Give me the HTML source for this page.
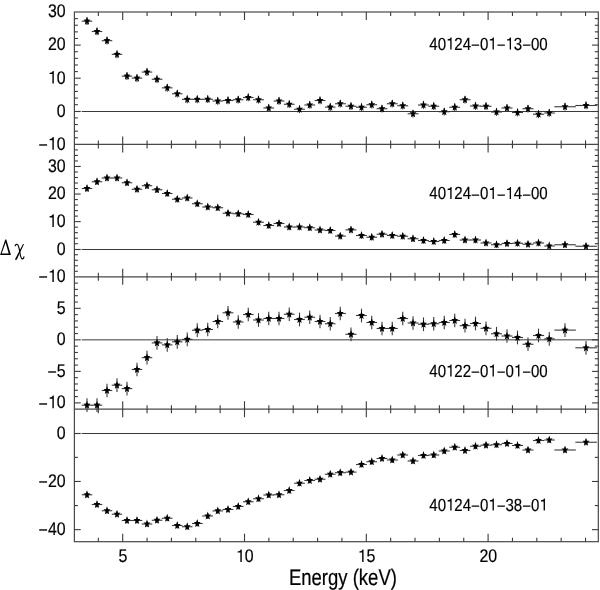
<!DOCTYPE html><html><head><meta charset="utf-8"><style>html,body{margin:0;padding:0;background:#fff}svg{display:block;filter:grayscale(1);text-rendering:geometricPrecision}</style></head><body>
<svg width="600" height="590" viewBox="0 0 600 590">
<g stroke="#484848" stroke-width="1.2" fill="none">
<rect x="74.40" y="12.00" width="523.90" height="529.70"/>
<line x1="74.40" y1="144.40" x2="598.30" y2="144.40"/>
<line x1="74.40" y1="276.80" x2="598.30" y2="276.80"/>
<line x1="74.40" y1="409.20" x2="598.30" y2="409.20"/>
</g>
<g stroke="#3a3a3a" stroke-width="1.0">
<line x1="81.70" y1="111.50" x2="598.30" y2="111.50"/>
<line x1="81.70" y1="249.50" x2="598.30" y2="249.50"/>
<line x1="81.70" y1="339.85" x2="598.30" y2="339.85"/>
<line x1="81.70" y1="433.50" x2="598.30" y2="433.50"/>
</g>
<g stroke="#3a3a3a" stroke-width="1.1">
<line x1="98.34" y1="12.00" x2="98.34" y2="16.00"/>
<line x1="98.34" y1="144.40" x2="98.34" y2="140.40"/>
<line x1="122.70" y1="12.00" x2="122.70" y2="20.00"/>
<line x1="122.70" y1="144.40" x2="122.70" y2="136.40"/>
<line x1="147.06" y1="12.00" x2="147.06" y2="16.00"/>
<line x1="147.06" y1="144.40" x2="147.06" y2="140.40"/>
<line x1="171.42" y1="12.00" x2="171.42" y2="16.00"/>
<line x1="171.42" y1="144.40" x2="171.42" y2="140.40"/>
<line x1="195.78" y1="12.00" x2="195.78" y2="16.00"/>
<line x1="195.78" y1="144.40" x2="195.78" y2="140.40"/>
<line x1="220.14" y1="12.00" x2="220.14" y2="16.00"/>
<line x1="220.14" y1="144.40" x2="220.14" y2="140.40"/>
<line x1="244.50" y1="12.00" x2="244.50" y2="20.00"/>
<line x1="244.50" y1="144.40" x2="244.50" y2="136.40"/>
<line x1="268.86" y1="12.00" x2="268.86" y2="16.00"/>
<line x1="268.86" y1="144.40" x2="268.86" y2="140.40"/>
<line x1="293.22" y1="12.00" x2="293.22" y2="16.00"/>
<line x1="293.22" y1="144.40" x2="293.22" y2="140.40"/>
<line x1="317.58" y1="12.00" x2="317.58" y2="16.00"/>
<line x1="317.58" y1="144.40" x2="317.58" y2="140.40"/>
<line x1="341.94" y1="12.00" x2="341.94" y2="16.00"/>
<line x1="341.94" y1="144.40" x2="341.94" y2="140.40"/>
<line x1="366.30" y1="12.00" x2="366.30" y2="20.00"/>
<line x1="366.30" y1="144.40" x2="366.30" y2="136.40"/>
<line x1="390.66" y1="12.00" x2="390.66" y2="16.00"/>
<line x1="390.66" y1="144.40" x2="390.66" y2="140.40"/>
<line x1="415.02" y1="12.00" x2="415.02" y2="16.00"/>
<line x1="415.02" y1="144.40" x2="415.02" y2="140.40"/>
<line x1="439.38" y1="12.00" x2="439.38" y2="16.00"/>
<line x1="439.38" y1="144.40" x2="439.38" y2="140.40"/>
<line x1="463.74" y1="12.00" x2="463.74" y2="16.00"/>
<line x1="463.74" y1="144.40" x2="463.74" y2="140.40"/>
<line x1="488.10" y1="12.00" x2="488.10" y2="20.00"/>
<line x1="488.10" y1="144.40" x2="488.10" y2="136.40"/>
<line x1="512.46" y1="12.00" x2="512.46" y2="16.00"/>
<line x1="512.46" y1="144.40" x2="512.46" y2="140.40"/>
<line x1="536.82" y1="12.00" x2="536.82" y2="16.00"/>
<line x1="536.82" y1="144.40" x2="536.82" y2="140.40"/>
<line x1="561.18" y1="12.00" x2="561.18" y2="16.00"/>
<line x1="561.18" y1="144.40" x2="561.18" y2="140.40"/>
<line x1="585.54" y1="12.00" x2="585.54" y2="16.00"/>
<line x1="585.54" y1="144.40" x2="585.54" y2="140.40"/>
<line x1="74.40" y1="137.78" x2="77.90" y2="137.78"/>
<line x1="598.30" y1="137.78" x2="594.80" y2="137.78"/>
<line x1="74.40" y1="131.16" x2="77.90" y2="131.16"/>
<line x1="598.30" y1="131.16" x2="594.80" y2="131.16"/>
<line x1="74.40" y1="124.54" x2="77.90" y2="124.54"/>
<line x1="598.30" y1="124.54" x2="594.80" y2="124.54"/>
<line x1="74.40" y1="117.92" x2="77.90" y2="117.92"/>
<line x1="598.30" y1="117.92" x2="594.80" y2="117.92"/>
<line x1="74.40" y1="111.50" x2="80.70" y2="111.50"/>
<line x1="598.30" y1="111.50" x2="592.00" y2="111.50"/>
<line x1="74.40" y1="104.68" x2="77.90" y2="104.68"/>
<line x1="598.30" y1="104.68" x2="594.80" y2="104.68"/>
<line x1="74.40" y1="98.06" x2="77.90" y2="98.06"/>
<line x1="598.30" y1="98.06" x2="594.80" y2="98.06"/>
<line x1="74.40" y1="91.44" x2="77.90" y2="91.44"/>
<line x1="598.30" y1="91.44" x2="594.80" y2="91.44"/>
<line x1="74.40" y1="84.82" x2="77.90" y2="84.82"/>
<line x1="598.30" y1="84.82" x2="594.80" y2="84.82"/>
<line x1="74.40" y1="78.20" x2="80.70" y2="78.20"/>
<line x1="598.30" y1="78.20" x2="592.00" y2="78.20"/>
<line x1="74.40" y1="71.58" x2="77.90" y2="71.58"/>
<line x1="598.30" y1="71.58" x2="594.80" y2="71.58"/>
<line x1="74.40" y1="64.96" x2="77.90" y2="64.96"/>
<line x1="598.30" y1="64.96" x2="594.80" y2="64.96"/>
<line x1="74.40" y1="58.34" x2="77.90" y2="58.34"/>
<line x1="598.30" y1="58.34" x2="594.80" y2="58.34"/>
<line x1="74.40" y1="51.72" x2="77.90" y2="51.72"/>
<line x1="598.30" y1="51.72" x2="594.80" y2="51.72"/>
<line x1="74.40" y1="45.10" x2="80.70" y2="45.10"/>
<line x1="598.30" y1="45.10" x2="592.00" y2="45.10"/>
<line x1="74.40" y1="38.48" x2="77.90" y2="38.48"/>
<line x1="598.30" y1="38.48" x2="594.80" y2="38.48"/>
<line x1="74.40" y1="31.86" x2="77.90" y2="31.86"/>
<line x1="598.30" y1="31.86" x2="594.80" y2="31.86"/>
<line x1="74.40" y1="25.24" x2="77.90" y2="25.24"/>
<line x1="598.30" y1="25.24" x2="594.80" y2="25.24"/>
<line x1="74.40" y1="18.62" x2="77.90" y2="18.62"/>
<line x1="598.30" y1="18.62" x2="594.80" y2="18.62"/>
<line x1="98.34" y1="144.40" x2="98.34" y2="148.40"/>
<line x1="98.34" y1="276.80" x2="98.34" y2="272.80"/>
<line x1="122.70" y1="144.40" x2="122.70" y2="152.40"/>
<line x1="122.70" y1="276.80" x2="122.70" y2="268.80"/>
<line x1="147.06" y1="144.40" x2="147.06" y2="148.40"/>
<line x1="147.06" y1="276.80" x2="147.06" y2="272.80"/>
<line x1="171.42" y1="144.40" x2="171.42" y2="148.40"/>
<line x1="171.42" y1="276.80" x2="171.42" y2="272.80"/>
<line x1="195.78" y1="144.40" x2="195.78" y2="148.40"/>
<line x1="195.78" y1="276.80" x2="195.78" y2="272.80"/>
<line x1="220.14" y1="144.40" x2="220.14" y2="148.40"/>
<line x1="220.14" y1="276.80" x2="220.14" y2="272.80"/>
<line x1="244.50" y1="144.40" x2="244.50" y2="152.40"/>
<line x1="244.50" y1="276.80" x2="244.50" y2="268.80"/>
<line x1="268.86" y1="144.40" x2="268.86" y2="148.40"/>
<line x1="268.86" y1="276.80" x2="268.86" y2="272.80"/>
<line x1="293.22" y1="144.40" x2="293.22" y2="148.40"/>
<line x1="293.22" y1="276.80" x2="293.22" y2="272.80"/>
<line x1="317.58" y1="144.40" x2="317.58" y2="148.40"/>
<line x1="317.58" y1="276.80" x2="317.58" y2="272.80"/>
<line x1="341.94" y1="144.40" x2="341.94" y2="148.40"/>
<line x1="341.94" y1="276.80" x2="341.94" y2="272.80"/>
<line x1="366.30" y1="144.40" x2="366.30" y2="152.40"/>
<line x1="366.30" y1="276.80" x2="366.30" y2="268.80"/>
<line x1="390.66" y1="144.40" x2="390.66" y2="148.40"/>
<line x1="390.66" y1="276.80" x2="390.66" y2="272.80"/>
<line x1="415.02" y1="144.40" x2="415.02" y2="148.40"/>
<line x1="415.02" y1="276.80" x2="415.02" y2="272.80"/>
<line x1="439.38" y1="144.40" x2="439.38" y2="148.40"/>
<line x1="439.38" y1="276.80" x2="439.38" y2="272.80"/>
<line x1="463.74" y1="144.40" x2="463.74" y2="148.40"/>
<line x1="463.74" y1="276.80" x2="463.74" y2="272.80"/>
<line x1="488.10" y1="144.40" x2="488.10" y2="152.40"/>
<line x1="488.10" y1="276.80" x2="488.10" y2="268.80"/>
<line x1="512.46" y1="144.40" x2="512.46" y2="148.40"/>
<line x1="512.46" y1="276.80" x2="512.46" y2="272.80"/>
<line x1="536.82" y1="144.40" x2="536.82" y2="148.40"/>
<line x1="536.82" y1="276.80" x2="536.82" y2="272.80"/>
<line x1="561.18" y1="144.40" x2="561.18" y2="148.40"/>
<line x1="561.18" y1="276.80" x2="561.18" y2="272.80"/>
<line x1="585.54" y1="144.40" x2="585.54" y2="148.40"/>
<line x1="585.54" y1="276.80" x2="585.54" y2="272.80"/>
<line x1="74.40" y1="271.28" x2="77.90" y2="271.28"/>
<line x1="598.30" y1="271.28" x2="594.80" y2="271.28"/>
<line x1="74.40" y1="265.77" x2="77.90" y2="265.77"/>
<line x1="598.30" y1="265.77" x2="594.80" y2="265.77"/>
<line x1="74.40" y1="260.25" x2="77.90" y2="260.25"/>
<line x1="598.30" y1="260.25" x2="594.80" y2="260.25"/>
<line x1="74.40" y1="254.73" x2="77.90" y2="254.73"/>
<line x1="598.30" y1="254.73" x2="594.80" y2="254.73"/>
<line x1="74.40" y1="249.50" x2="80.70" y2="249.50"/>
<line x1="598.30" y1="249.50" x2="592.00" y2="249.50"/>
<line x1="74.40" y1="243.70" x2="77.90" y2="243.70"/>
<line x1="598.30" y1="243.70" x2="594.80" y2="243.70"/>
<line x1="74.40" y1="238.18" x2="77.90" y2="238.18"/>
<line x1="598.30" y1="238.18" x2="594.80" y2="238.18"/>
<line x1="74.40" y1="232.67" x2="77.90" y2="232.67"/>
<line x1="598.30" y1="232.67" x2="594.80" y2="232.67"/>
<line x1="74.40" y1="227.15" x2="77.90" y2="227.15"/>
<line x1="598.30" y1="227.15" x2="594.80" y2="227.15"/>
<line x1="74.40" y1="221.63" x2="80.70" y2="221.63"/>
<line x1="598.30" y1="221.63" x2="592.00" y2="221.63"/>
<line x1="74.40" y1="216.12" x2="77.90" y2="216.12"/>
<line x1="598.30" y1="216.12" x2="594.80" y2="216.12"/>
<line x1="74.40" y1="210.60" x2="77.90" y2="210.60"/>
<line x1="598.30" y1="210.60" x2="594.80" y2="210.60"/>
<line x1="74.40" y1="205.08" x2="77.90" y2="205.08"/>
<line x1="598.30" y1="205.08" x2="594.80" y2="205.08"/>
<line x1="74.40" y1="199.57" x2="77.90" y2="199.57"/>
<line x1="598.30" y1="199.57" x2="594.80" y2="199.57"/>
<line x1="74.40" y1="194.05" x2="80.70" y2="194.05"/>
<line x1="598.30" y1="194.05" x2="592.00" y2="194.05"/>
<line x1="74.40" y1="188.53" x2="77.90" y2="188.53"/>
<line x1="598.30" y1="188.53" x2="594.80" y2="188.53"/>
<line x1="74.40" y1="183.02" x2="77.90" y2="183.02"/>
<line x1="598.30" y1="183.02" x2="594.80" y2="183.02"/>
<line x1="74.40" y1="177.50" x2="77.90" y2="177.50"/>
<line x1="598.30" y1="177.50" x2="594.80" y2="177.50"/>
<line x1="74.40" y1="171.98" x2="77.90" y2="171.98"/>
<line x1="598.30" y1="171.98" x2="594.80" y2="171.98"/>
<line x1="74.40" y1="166.47" x2="80.70" y2="166.47"/>
<line x1="598.30" y1="166.47" x2="592.00" y2="166.47"/>
<line x1="74.40" y1="160.95" x2="77.90" y2="160.95"/>
<line x1="598.30" y1="160.95" x2="594.80" y2="160.95"/>
<line x1="74.40" y1="155.43" x2="77.90" y2="155.43"/>
<line x1="598.30" y1="155.43" x2="594.80" y2="155.43"/>
<line x1="74.40" y1="149.92" x2="77.90" y2="149.92"/>
<line x1="598.30" y1="149.92" x2="594.80" y2="149.92"/>
<line x1="98.34" y1="276.80" x2="98.34" y2="280.80"/>
<line x1="98.34" y1="409.20" x2="98.34" y2="405.20"/>
<line x1="122.70" y1="276.80" x2="122.70" y2="284.80"/>
<line x1="122.70" y1="409.20" x2="122.70" y2="401.20"/>
<line x1="147.06" y1="276.80" x2="147.06" y2="280.80"/>
<line x1="147.06" y1="409.20" x2="147.06" y2="405.20"/>
<line x1="171.42" y1="276.80" x2="171.42" y2="280.80"/>
<line x1="171.42" y1="409.20" x2="171.42" y2="405.20"/>
<line x1="195.78" y1="276.80" x2="195.78" y2="280.80"/>
<line x1="195.78" y1="409.20" x2="195.78" y2="405.20"/>
<line x1="220.14" y1="276.80" x2="220.14" y2="280.80"/>
<line x1="220.14" y1="409.20" x2="220.14" y2="405.20"/>
<line x1="244.50" y1="276.80" x2="244.50" y2="284.80"/>
<line x1="244.50" y1="409.20" x2="244.50" y2="401.20"/>
<line x1="268.86" y1="276.80" x2="268.86" y2="280.80"/>
<line x1="268.86" y1="409.20" x2="268.86" y2="405.20"/>
<line x1="293.22" y1="276.80" x2="293.22" y2="280.80"/>
<line x1="293.22" y1="409.20" x2="293.22" y2="405.20"/>
<line x1="317.58" y1="276.80" x2="317.58" y2="280.80"/>
<line x1="317.58" y1="409.20" x2="317.58" y2="405.20"/>
<line x1="341.94" y1="276.80" x2="341.94" y2="280.80"/>
<line x1="341.94" y1="409.20" x2="341.94" y2="405.20"/>
<line x1="366.30" y1="276.80" x2="366.30" y2="284.80"/>
<line x1="366.30" y1="409.20" x2="366.30" y2="401.20"/>
<line x1="390.66" y1="276.80" x2="390.66" y2="280.80"/>
<line x1="390.66" y1="409.20" x2="390.66" y2="405.20"/>
<line x1="415.02" y1="276.80" x2="415.02" y2="280.80"/>
<line x1="415.02" y1="409.20" x2="415.02" y2="405.20"/>
<line x1="439.38" y1="276.80" x2="439.38" y2="280.80"/>
<line x1="439.38" y1="409.20" x2="439.38" y2="405.20"/>
<line x1="463.74" y1="276.80" x2="463.74" y2="280.80"/>
<line x1="463.74" y1="409.20" x2="463.74" y2="405.20"/>
<line x1="488.10" y1="276.80" x2="488.10" y2="284.80"/>
<line x1="488.10" y1="409.20" x2="488.10" y2="401.20"/>
<line x1="512.46" y1="276.80" x2="512.46" y2="280.80"/>
<line x1="512.46" y1="409.20" x2="512.46" y2="405.20"/>
<line x1="536.82" y1="276.80" x2="536.82" y2="280.80"/>
<line x1="536.82" y1="409.20" x2="536.82" y2="405.20"/>
<line x1="561.18" y1="276.80" x2="561.18" y2="280.80"/>
<line x1="561.18" y1="409.20" x2="561.18" y2="405.20"/>
<line x1="585.54" y1="276.80" x2="585.54" y2="280.80"/>
<line x1="585.54" y1="409.20" x2="585.54" y2="405.20"/>
<line x1="74.40" y1="402.90" x2="80.70" y2="402.90"/>
<line x1="598.30" y1="402.90" x2="592.00" y2="402.90"/>
<line x1="74.40" y1="396.59" x2="77.90" y2="396.59"/>
<line x1="598.30" y1="396.59" x2="594.80" y2="396.59"/>
<line x1="74.40" y1="390.29" x2="77.90" y2="390.29"/>
<line x1="598.30" y1="390.29" x2="594.80" y2="390.29"/>
<line x1="74.40" y1="383.98" x2="77.90" y2="383.98"/>
<line x1="598.30" y1="383.98" x2="594.80" y2="383.98"/>
<line x1="74.40" y1="377.68" x2="77.90" y2="377.68"/>
<line x1="598.30" y1="377.68" x2="594.80" y2="377.68"/>
<line x1="74.40" y1="371.37" x2="80.70" y2="371.37"/>
<line x1="598.30" y1="371.37" x2="592.00" y2="371.37"/>
<line x1="74.40" y1="365.07" x2="77.90" y2="365.07"/>
<line x1="598.30" y1="365.07" x2="594.80" y2="365.07"/>
<line x1="74.40" y1="358.76" x2="77.90" y2="358.76"/>
<line x1="598.30" y1="358.76" x2="594.80" y2="358.76"/>
<line x1="74.40" y1="352.46" x2="77.90" y2="352.46"/>
<line x1="598.30" y1="352.46" x2="594.80" y2="352.46"/>
<line x1="74.40" y1="346.15" x2="77.90" y2="346.15"/>
<line x1="598.30" y1="346.15" x2="594.80" y2="346.15"/>
<line x1="74.40" y1="339.85" x2="80.70" y2="339.85"/>
<line x1="598.30" y1="339.85" x2="592.00" y2="339.85"/>
<line x1="74.40" y1="333.54" x2="77.90" y2="333.54"/>
<line x1="598.30" y1="333.54" x2="594.80" y2="333.54"/>
<line x1="74.40" y1="327.24" x2="77.90" y2="327.24"/>
<line x1="598.30" y1="327.24" x2="594.80" y2="327.24"/>
<line x1="74.40" y1="320.93" x2="77.90" y2="320.93"/>
<line x1="598.30" y1="320.93" x2="594.80" y2="320.93"/>
<line x1="74.40" y1="314.63" x2="77.90" y2="314.63"/>
<line x1="598.30" y1="314.63" x2="594.80" y2="314.63"/>
<line x1="74.40" y1="308.32" x2="80.70" y2="308.32"/>
<line x1="598.30" y1="308.32" x2="592.00" y2="308.32"/>
<line x1="74.40" y1="302.02" x2="77.90" y2="302.02"/>
<line x1="598.30" y1="302.02" x2="594.80" y2="302.02"/>
<line x1="74.40" y1="295.71" x2="77.90" y2="295.71"/>
<line x1="598.30" y1="295.71" x2="594.80" y2="295.71"/>
<line x1="74.40" y1="289.41" x2="77.90" y2="289.41"/>
<line x1="598.30" y1="289.41" x2="594.80" y2="289.41"/>
<line x1="74.40" y1="283.10" x2="77.90" y2="283.10"/>
<line x1="598.30" y1="283.10" x2="594.80" y2="283.10"/>
<line x1="98.34" y1="409.20" x2="98.34" y2="413.20"/>
<line x1="98.34" y1="541.70" x2="98.34" y2="537.70"/>
<line x1="122.70" y1="409.20" x2="122.70" y2="417.20"/>
<line x1="122.70" y1="541.70" x2="122.70" y2="533.70"/>
<line x1="147.06" y1="409.20" x2="147.06" y2="413.20"/>
<line x1="147.06" y1="541.70" x2="147.06" y2="537.70"/>
<line x1="171.42" y1="409.20" x2="171.42" y2="413.20"/>
<line x1="171.42" y1="541.70" x2="171.42" y2="537.70"/>
<line x1="195.78" y1="409.20" x2="195.78" y2="413.20"/>
<line x1="195.78" y1="541.70" x2="195.78" y2="537.70"/>
<line x1="220.14" y1="409.20" x2="220.14" y2="413.20"/>
<line x1="220.14" y1="541.70" x2="220.14" y2="537.70"/>
<line x1="244.50" y1="409.20" x2="244.50" y2="417.20"/>
<line x1="244.50" y1="541.70" x2="244.50" y2="533.70"/>
<line x1="268.86" y1="409.20" x2="268.86" y2="413.20"/>
<line x1="268.86" y1="541.70" x2="268.86" y2="537.70"/>
<line x1="293.22" y1="409.20" x2="293.22" y2="413.20"/>
<line x1="293.22" y1="541.70" x2="293.22" y2="537.70"/>
<line x1="317.58" y1="409.20" x2="317.58" y2="413.20"/>
<line x1="317.58" y1="541.70" x2="317.58" y2="537.70"/>
<line x1="341.94" y1="409.20" x2="341.94" y2="413.20"/>
<line x1="341.94" y1="541.70" x2="341.94" y2="537.70"/>
<line x1="366.30" y1="409.20" x2="366.30" y2="417.20"/>
<line x1="366.30" y1="541.70" x2="366.30" y2="533.70"/>
<line x1="390.66" y1="409.20" x2="390.66" y2="413.20"/>
<line x1="390.66" y1="541.70" x2="390.66" y2="537.70"/>
<line x1="415.02" y1="409.20" x2="415.02" y2="413.20"/>
<line x1="415.02" y1="541.70" x2="415.02" y2="537.70"/>
<line x1="439.38" y1="409.20" x2="439.38" y2="413.20"/>
<line x1="439.38" y1="541.70" x2="439.38" y2="537.70"/>
<line x1="463.74" y1="409.20" x2="463.74" y2="413.20"/>
<line x1="463.74" y1="541.70" x2="463.74" y2="537.70"/>
<line x1="488.10" y1="409.20" x2="488.10" y2="417.20"/>
<line x1="488.10" y1="541.70" x2="488.10" y2="533.70"/>
<line x1="512.46" y1="409.20" x2="512.46" y2="413.20"/>
<line x1="512.46" y1="541.70" x2="512.46" y2="537.70"/>
<line x1="536.82" y1="409.20" x2="536.82" y2="413.20"/>
<line x1="536.82" y1="541.70" x2="536.82" y2="537.70"/>
<line x1="561.18" y1="409.20" x2="561.18" y2="413.20"/>
<line x1="561.18" y1="541.70" x2="561.18" y2="537.70"/>
<line x1="585.54" y1="409.20" x2="585.54" y2="413.20"/>
<line x1="585.54" y1="541.70" x2="585.54" y2="537.70"/>
<line x1="74.40" y1="529.65" x2="80.70" y2="529.65"/>
<line x1="598.30" y1="529.65" x2="592.00" y2="529.65"/>
<line x1="74.40" y1="505.56" x2="77.90" y2="505.56"/>
<line x1="598.30" y1="505.56" x2="594.80" y2="505.56"/>
<line x1="74.40" y1="481.47" x2="80.70" y2="481.47"/>
<line x1="598.30" y1="481.47" x2="592.00" y2="481.47"/>
<line x1="74.40" y1="457.38" x2="77.90" y2="457.38"/>
<line x1="598.30" y1="457.38" x2="594.80" y2="457.38"/>
<line x1="74.40" y1="433.50" x2="80.70" y2="433.50"/>
<line x1="598.30" y1="433.50" x2="592.00" y2="433.50"/>
</g>
<g stroke="#3a3a3a" stroke-width="1.1" stroke-linecap="square">
<line x1="81.75" y1="21.20" x2="92.25" y2="21.20" stroke-linecap="butt"/>
<line x1="87.00" y1="17.89" x2="87.00" y2="24.51"/>
<line x1="91.75" y1="31.50" x2="102.25" y2="31.50" stroke-linecap="butt"/>
<line x1="97.00" y1="28.19" x2="97.00" y2="34.81"/>
<line x1="101.75" y1="40.70" x2="112.25" y2="40.70" stroke-linecap="butt"/>
<line x1="107.00" y1="37.39" x2="107.00" y2="44.01"/>
<line x1="111.75" y1="54.35" x2="122.25" y2="54.35" stroke-linecap="butt"/>
<line x1="117.00" y1="51.04" x2="117.00" y2="57.66"/>
<line x1="121.75" y1="76.15" x2="132.25" y2="76.15" stroke-linecap="butt"/>
<line x1="127.00" y1="72.84" x2="127.00" y2="79.46"/>
<line x1="131.75" y1="78.10" x2="142.25" y2="78.10" stroke-linecap="butt"/>
<line x1="137.00" y1="74.79" x2="137.00" y2="81.41"/>
<line x1="141.75" y1="72.05" x2="152.25" y2="72.05" stroke-linecap="butt"/>
<line x1="147.00" y1="68.74" x2="147.00" y2="75.36"/>
<line x1="151.75" y1="79.25" x2="162.38" y2="79.25" stroke-linecap="butt"/>
<line x1="157.00" y1="75.94" x2="157.00" y2="82.56"/>
<line x1="161.88" y1="87.85" x2="172.50" y2="87.85" stroke-linecap="butt"/>
<line x1="167.25" y1="84.54" x2="167.25" y2="91.16"/>
<line x1="172.00" y1="93.75" x2="182.50" y2="93.75" stroke-linecap="butt"/>
<line x1="177.25" y1="90.44" x2="177.25" y2="97.06"/>
<line x1="182.00" y1="99.35" x2="192.50" y2="99.35" stroke-linecap="butt"/>
<line x1="187.25" y1="96.04" x2="187.25" y2="102.66"/>
<line x1="192.00" y1="99.35" x2="202.75" y2="99.35" stroke-linecap="butt"/>
<line x1="197.25" y1="96.04" x2="197.25" y2="102.66"/>
<line x1="202.25" y1="99.25" x2="213.00" y2="99.25" stroke-linecap="butt"/>
<line x1="207.75" y1="95.94" x2="207.75" y2="102.56"/>
<line x1="212.50" y1="101.00" x2="223.12" y2="101.00" stroke-linecap="butt"/>
<line x1="217.75" y1="97.69" x2="217.75" y2="104.31"/>
<line x1="222.62" y1="100.50" x2="233.38" y2="100.50" stroke-linecap="butt"/>
<line x1="228.00" y1="97.19" x2="228.00" y2="103.81"/>
<line x1="232.88" y1="99.75" x2="243.50" y2="99.75" stroke-linecap="butt"/>
<line x1="238.25" y1="96.44" x2="238.25" y2="103.06"/>
<line x1="243.00" y1="97.50" x2="253.62" y2="97.50" stroke-linecap="butt"/>
<line x1="248.25" y1="94.19" x2="248.25" y2="100.81"/>
<line x1="253.12" y1="99.75" x2="263.88" y2="99.75" stroke-linecap="butt"/>
<line x1="258.50" y1="96.44" x2="258.50" y2="103.06"/>
<line x1="263.38" y1="108.00" x2="274.12" y2="108.00" stroke-linecap="butt"/>
<line x1="268.75" y1="104.69" x2="268.75" y2="111.31"/>
<line x1="273.62" y1="101.00" x2="284.38" y2="101.00" stroke-linecap="butt"/>
<line x1="279.00" y1="97.69" x2="279.00" y2="104.31"/>
<line x1="283.88" y1="104.25" x2="294.62" y2="104.25" stroke-linecap="butt"/>
<line x1="289.25" y1="100.94" x2="289.25" y2="107.56"/>
<line x1="294.12" y1="109.25" x2="304.88" y2="109.25" stroke-linecap="butt"/>
<line x1="299.50" y1="105.94" x2="299.50" y2="112.56"/>
<line x1="304.38" y1="105.00" x2="315.12" y2="105.00" stroke-linecap="butt"/>
<line x1="309.75" y1="101.69" x2="309.75" y2="108.31"/>
<line x1="314.62" y1="100.50" x2="325.38" y2="100.50" stroke-linecap="butt"/>
<line x1="320.00" y1="97.19" x2="320.00" y2="103.81"/>
<line x1="324.88" y1="107.10" x2="335.50" y2="107.10" stroke-linecap="butt"/>
<line x1="330.25" y1="103.79" x2="330.25" y2="110.41"/>
<line x1="335.00" y1="103.75" x2="345.88" y2="103.75" stroke-linecap="butt"/>
<line x1="340.25" y1="100.44" x2="340.25" y2="107.06"/>
<line x1="345.38" y1="106.25" x2="356.50" y2="106.25" stroke-linecap="butt"/>
<line x1="351.00" y1="102.94" x2="351.00" y2="109.56"/>
<line x1="356.00" y1="107.25" x2="366.88" y2="107.25" stroke-linecap="butt"/>
<line x1="361.50" y1="103.94" x2="361.50" y2="110.56"/>
<line x1="366.38" y1="104.75" x2="377.12" y2="104.75" stroke-linecap="butt"/>
<line x1="371.75" y1="101.44" x2="371.75" y2="108.06"/>
<line x1="376.62" y1="108.75" x2="387.38" y2="108.75" stroke-linecap="butt"/>
<line x1="382.00" y1="105.44" x2="382.00" y2="112.06"/>
<line x1="386.88" y1="103.75" x2="397.75" y2="103.75" stroke-linecap="butt"/>
<line x1="392.25" y1="100.44" x2="392.25" y2="107.06"/>
<line x1="397.25" y1="105.75" x2="408.12" y2="105.75" stroke-linecap="butt"/>
<line x1="402.75" y1="102.44" x2="402.75" y2="109.06"/>
<line x1="407.62" y1="113.75" x2="418.50" y2="113.75" stroke-linecap="butt"/>
<line x1="413.00" y1="110.44" x2="413.00" y2="117.06"/>
<line x1="418.00" y1="105.00" x2="428.88" y2="105.00" stroke-linecap="butt"/>
<line x1="423.50" y1="101.69" x2="423.50" y2="108.31"/>
<line x1="428.38" y1="106.25" x2="439.25" y2="106.25" stroke-linecap="butt"/>
<line x1="433.75" y1="102.94" x2="433.75" y2="109.56"/>
<line x1="438.75" y1="111.75" x2="449.75" y2="111.75" stroke-linecap="butt"/>
<line x1="444.25" y1="108.44" x2="444.25" y2="115.06"/>
<line x1="449.25" y1="107.25" x2="460.12" y2="107.25" stroke-linecap="butt"/>
<line x1="454.75" y1="103.94" x2="454.75" y2="110.56"/>
<line x1="459.62" y1="99.75" x2="470.50" y2="99.75" stroke-linecap="butt"/>
<line x1="465.00" y1="96.44" x2="465.00" y2="103.06"/>
<line x1="470.00" y1="106.00" x2="481.00" y2="106.00" stroke-linecap="butt"/>
<line x1="475.50" y1="102.69" x2="475.50" y2="109.31"/>
<line x1="480.50" y1="106.25" x2="491.50" y2="106.25" stroke-linecap="butt"/>
<line x1="486.00" y1="102.94" x2="486.00" y2="109.56"/>
<line x1="491.00" y1="112.00" x2="502.00" y2="112.00" stroke-linecap="butt"/>
<line x1="496.50" y1="108.69" x2="496.50" y2="115.31"/>
<line x1="501.50" y1="108.00" x2="512.50" y2="108.00" stroke-linecap="butt"/>
<line x1="507.00" y1="104.69" x2="507.00" y2="111.31"/>
<line x1="512.00" y1="112.50" x2="523.00" y2="112.50" stroke-linecap="butt"/>
<line x1="517.50" y1="109.19" x2="517.50" y2="115.81"/>
<line x1="522.50" y1="108.75" x2="533.50" y2="108.75" stroke-linecap="butt"/>
<line x1="528.00" y1="105.44" x2="528.00" y2="112.06"/>
<line x1="533.00" y1="114.25" x2="544.12" y2="114.25" stroke-linecap="butt"/>
<line x1="538.50" y1="110.94" x2="538.50" y2="117.56"/>
<line x1="544.25" y1="113.00" x2="554.85" y2="113.00" stroke-linecap="butt"/>
<line x1="549.25" y1="109.69" x2="549.25" y2="116.31"/>
<line x1="554.35" y1="106.75" x2="575.85" y2="106.75" stroke-linecap="butt"/>
<line x1="565.00" y1="103.44" x2="565.00" y2="110.06"/>
<line x1="575.35" y1="105.50" x2="596.85" y2="105.50" stroke-linecap="butt"/>
<line x1="586.00" y1="102.19" x2="586.00" y2="108.81"/>
<line x1="81.75" y1="188.50" x2="92.25" y2="188.50" stroke-linecap="butt"/>
<line x1="87.00" y1="185.74" x2="87.00" y2="191.26"/>
<line x1="91.75" y1="181.75" x2="102.25" y2="181.75" stroke-linecap="butt"/>
<line x1="97.00" y1="178.99" x2="97.00" y2="184.51"/>
<line x1="101.75" y1="178.00" x2="112.25" y2="178.00" stroke-linecap="butt"/>
<line x1="107.00" y1="175.24" x2="107.00" y2="180.76"/>
<line x1="111.75" y1="178.00" x2="122.25" y2="178.00" stroke-linecap="butt"/>
<line x1="117.00" y1="175.24" x2="117.00" y2="180.76"/>
<line x1="121.75" y1="182.75" x2="132.25" y2="182.75" stroke-linecap="butt"/>
<line x1="127.00" y1="179.99" x2="127.00" y2="185.51"/>
<line x1="131.75" y1="189.25" x2="142.25" y2="189.25" stroke-linecap="butt"/>
<line x1="137.00" y1="186.49" x2="137.00" y2="192.01"/>
<line x1="141.75" y1="185.75" x2="152.25" y2="185.75" stroke-linecap="butt"/>
<line x1="147.00" y1="182.99" x2="147.00" y2="188.51"/>
<line x1="151.75" y1="189.75" x2="162.38" y2="189.75" stroke-linecap="butt"/>
<line x1="157.00" y1="186.99" x2="157.00" y2="192.51"/>
<line x1="161.88" y1="193.50" x2="172.50" y2="193.50" stroke-linecap="butt"/>
<line x1="167.25" y1="190.74" x2="167.25" y2="196.26"/>
<line x1="172.00" y1="199.25" x2="182.50" y2="199.25" stroke-linecap="butt"/>
<line x1="177.25" y1="196.49" x2="177.25" y2="202.01"/>
<line x1="182.00" y1="198.00" x2="192.50" y2="198.00" stroke-linecap="butt"/>
<line x1="187.25" y1="195.24" x2="187.25" y2="200.76"/>
<line x1="192.00" y1="203.75" x2="202.75" y2="203.75" stroke-linecap="butt"/>
<line x1="197.25" y1="200.99" x2="197.25" y2="206.51"/>
<line x1="202.25" y1="207.00" x2="213.00" y2="207.00" stroke-linecap="butt"/>
<line x1="207.75" y1="204.24" x2="207.75" y2="209.76"/>
<line x1="212.50" y1="207.75" x2="223.12" y2="207.75" stroke-linecap="butt"/>
<line x1="217.75" y1="204.99" x2="217.75" y2="210.51"/>
<line x1="222.62" y1="213.25" x2="233.38" y2="213.25" stroke-linecap="butt"/>
<line x1="228.00" y1="210.49" x2="228.00" y2="216.01"/>
<line x1="232.88" y1="213.75" x2="243.50" y2="213.75" stroke-linecap="butt"/>
<line x1="238.25" y1="210.99" x2="238.25" y2="216.51"/>
<line x1="243.00" y1="214.50" x2="253.62" y2="214.50" stroke-linecap="butt"/>
<line x1="248.25" y1="211.74" x2="248.25" y2="217.26"/>
<line x1="253.12" y1="222.25" x2="263.88" y2="222.25" stroke-linecap="butt"/>
<line x1="258.50" y1="219.49" x2="258.50" y2="225.01"/>
<line x1="263.38" y1="225.50" x2="274.12" y2="225.50" stroke-linecap="butt"/>
<line x1="268.75" y1="222.74" x2="268.75" y2="228.26"/>
<line x1="273.62" y1="223.50" x2="284.38" y2="223.50" stroke-linecap="butt"/>
<line x1="279.00" y1="220.74" x2="279.00" y2="226.26"/>
<line x1="283.88" y1="227.00" x2="294.62" y2="227.00" stroke-linecap="butt"/>
<line x1="289.25" y1="224.24" x2="289.25" y2="229.76"/>
<line x1="294.12" y1="227.00" x2="304.88" y2="227.00" stroke-linecap="butt"/>
<line x1="299.50" y1="224.24" x2="299.50" y2="229.76"/>
<line x1="304.38" y1="227.75" x2="315.12" y2="227.75" stroke-linecap="butt"/>
<line x1="309.75" y1="224.99" x2="309.75" y2="230.51"/>
<line x1="314.62" y1="230.00" x2="325.38" y2="230.00" stroke-linecap="butt"/>
<line x1="320.00" y1="227.24" x2="320.00" y2="232.76"/>
<line x1="324.88" y1="230.50" x2="335.50" y2="230.50" stroke-linecap="butt"/>
<line x1="330.25" y1="227.74" x2="330.25" y2="233.26"/>
<line x1="335.00" y1="236.10" x2="345.88" y2="236.10" stroke-linecap="butt"/>
<line x1="340.25" y1="233.34" x2="340.25" y2="238.86"/>
<line x1="345.38" y1="229.90" x2="356.50" y2="229.90" stroke-linecap="butt"/>
<line x1="351.00" y1="227.14" x2="351.00" y2="232.66"/>
<line x1="356.00" y1="235.50" x2="366.88" y2="235.50" stroke-linecap="butt"/>
<line x1="361.50" y1="232.74" x2="361.50" y2="238.26"/>
<line x1="366.38" y1="237.25" x2="377.12" y2="237.25" stroke-linecap="butt"/>
<line x1="371.75" y1="234.49" x2="371.75" y2="240.01"/>
<line x1="376.62" y1="234.25" x2="387.38" y2="234.25" stroke-linecap="butt"/>
<line x1="382.00" y1="231.49" x2="382.00" y2="237.01"/>
<line x1="386.88" y1="235.50" x2="397.75" y2="235.50" stroke-linecap="butt"/>
<line x1="392.25" y1="232.74" x2="392.25" y2="238.26"/>
<line x1="397.25" y1="236.25" x2="408.12" y2="236.25" stroke-linecap="butt"/>
<line x1="402.75" y1="233.49" x2="402.75" y2="239.01"/>
<line x1="407.62" y1="238.75" x2="418.50" y2="238.75" stroke-linecap="butt"/>
<line x1="413.00" y1="235.99" x2="413.00" y2="241.51"/>
<line x1="418.00" y1="240.50" x2="428.88" y2="240.50" stroke-linecap="butt"/>
<line x1="423.50" y1="237.74" x2="423.50" y2="243.26"/>
<line x1="428.38" y1="241.50" x2="439.25" y2="241.50" stroke-linecap="butt"/>
<line x1="433.75" y1="238.74" x2="433.75" y2="244.26"/>
<line x1="438.75" y1="240.50" x2="449.75" y2="240.50" stroke-linecap="butt"/>
<line x1="444.25" y1="237.74" x2="444.25" y2="243.26"/>
<line x1="449.25" y1="234.50" x2="460.12" y2="234.50" stroke-linecap="butt"/>
<line x1="454.75" y1="231.74" x2="454.75" y2="237.26"/>
<line x1="459.62" y1="240.00" x2="470.50" y2="240.00" stroke-linecap="butt"/>
<line x1="465.00" y1="237.24" x2="465.00" y2="242.76"/>
<line x1="470.00" y1="240.00" x2="481.00" y2="240.00" stroke-linecap="butt"/>
<line x1="475.50" y1="237.24" x2="475.50" y2="242.76"/>
<line x1="480.50" y1="243.00" x2="491.50" y2="243.00" stroke-linecap="butt"/>
<line x1="486.00" y1="240.24" x2="486.00" y2="245.76"/>
<line x1="491.00" y1="244.75" x2="502.00" y2="244.75" stroke-linecap="butt"/>
<line x1="496.50" y1="241.99" x2="496.50" y2="247.51"/>
<line x1="501.50" y1="243.50" x2="512.50" y2="243.50" stroke-linecap="butt"/>
<line x1="507.00" y1="240.74" x2="507.00" y2="246.26"/>
<line x1="512.00" y1="243.25" x2="523.00" y2="243.25" stroke-linecap="butt"/>
<line x1="517.50" y1="240.49" x2="517.50" y2="246.01"/>
<line x1="522.50" y1="244.25" x2="533.50" y2="244.25" stroke-linecap="butt"/>
<line x1="528.00" y1="241.49" x2="528.00" y2="247.01"/>
<line x1="533.00" y1="243.00" x2="544.12" y2="243.00" stroke-linecap="butt"/>
<line x1="538.50" y1="240.24" x2="538.50" y2="245.76"/>
<line x1="544.25" y1="246.00" x2="554.85" y2="246.00" stroke-linecap="butt"/>
<line x1="549.25" y1="243.24" x2="549.25" y2="248.76"/>
<line x1="554.35" y1="244.75" x2="575.85" y2="244.75" stroke-linecap="butt"/>
<line x1="565.00" y1="241.99" x2="565.00" y2="247.51"/>
<line x1="575.35" y1="246.25" x2="596.85" y2="246.25" stroke-linecap="butt"/>
<line x1="586.00" y1="243.49" x2="586.00" y2="249.01"/>
<line x1="81.75" y1="405.20" x2="92.25" y2="405.20" stroke-linecap="butt"/>
<line x1="87.00" y1="398.90" x2="87.00" y2="411.50"/>
<line x1="91.75" y1="405.20" x2="102.25" y2="405.20" stroke-linecap="butt"/>
<line x1="97.00" y1="398.90" x2="97.00" y2="411.50"/>
<line x1="101.75" y1="390.50" x2="112.25" y2="390.50" stroke-linecap="butt"/>
<line x1="107.00" y1="384.20" x2="107.00" y2="396.80"/>
<line x1="111.75" y1="385.20" x2="122.25" y2="385.20" stroke-linecap="butt"/>
<line x1="117.00" y1="378.90" x2="117.00" y2="391.50"/>
<line x1="121.75" y1="388.60" x2="132.25" y2="388.60" stroke-linecap="butt"/>
<line x1="127.00" y1="382.30" x2="127.00" y2="394.90"/>
<line x1="131.75" y1="369.50" x2="142.25" y2="369.50" stroke-linecap="butt"/>
<line x1="137.00" y1="363.20" x2="137.00" y2="375.80"/>
<line x1="141.75" y1="357.70" x2="152.25" y2="357.70" stroke-linecap="butt"/>
<line x1="147.00" y1="351.40" x2="147.00" y2="364.00"/>
<line x1="151.75" y1="342.90" x2="162.38" y2="342.90" stroke-linecap="butt"/>
<line x1="157.00" y1="336.60" x2="157.00" y2="349.20"/>
<line x1="161.88" y1="344.90" x2="172.50" y2="344.90" stroke-linecap="butt"/>
<line x1="167.25" y1="338.60" x2="167.25" y2="351.20"/>
<line x1="172.00" y1="341.80" x2="182.50" y2="341.80" stroke-linecap="butt"/>
<line x1="177.25" y1="335.50" x2="177.25" y2="348.10"/>
<line x1="182.00" y1="339.40" x2="192.50" y2="339.40" stroke-linecap="butt"/>
<line x1="187.25" y1="333.10" x2="187.25" y2="345.70"/>
<line x1="192.00" y1="330.20" x2="202.75" y2="330.20" stroke-linecap="butt"/>
<line x1="197.25" y1="323.90" x2="197.25" y2="336.50"/>
<line x1="202.25" y1="329.50" x2="213.00" y2="329.50" stroke-linecap="butt"/>
<line x1="207.75" y1="323.20" x2="207.75" y2="335.80"/>
<line x1="212.50" y1="321.50" x2="223.12" y2="321.50" stroke-linecap="butt"/>
<line x1="217.75" y1="315.20" x2="217.75" y2="327.80"/>
<line x1="222.62" y1="312.80" x2="233.38" y2="312.80" stroke-linecap="butt"/>
<line x1="228.00" y1="306.50" x2="228.00" y2="319.10"/>
<line x1="232.88" y1="322.00" x2="243.50" y2="322.00" stroke-linecap="butt"/>
<line x1="238.25" y1="315.70" x2="238.25" y2="328.30"/>
<line x1="243.00" y1="314.50" x2="253.62" y2="314.50" stroke-linecap="butt"/>
<line x1="248.25" y1="308.20" x2="248.25" y2="320.80"/>
<line x1="253.12" y1="320.00" x2="263.88" y2="320.00" stroke-linecap="butt"/>
<line x1="258.50" y1="313.70" x2="258.50" y2="326.30"/>
<line x1="263.38" y1="318.50" x2="274.12" y2="318.50" stroke-linecap="butt"/>
<line x1="268.75" y1="312.20" x2="268.75" y2="324.80"/>
<line x1="273.62" y1="318.50" x2="284.38" y2="318.50" stroke-linecap="butt"/>
<line x1="279.00" y1="312.20" x2="279.00" y2="324.80"/>
<line x1="283.88" y1="314.25" x2="294.62" y2="314.25" stroke-linecap="butt"/>
<line x1="289.25" y1="307.95" x2="289.25" y2="320.55"/>
<line x1="294.12" y1="319.50" x2="304.88" y2="319.50" stroke-linecap="butt"/>
<line x1="299.50" y1="313.20" x2="299.50" y2="325.80"/>
<line x1="304.38" y1="317.25" x2="315.12" y2="317.25" stroke-linecap="butt"/>
<line x1="309.75" y1="310.95" x2="309.75" y2="323.55"/>
<line x1="314.62" y1="321.50" x2="325.38" y2="321.50" stroke-linecap="butt"/>
<line x1="320.00" y1="315.20" x2="320.00" y2="327.80"/>
<line x1="324.88" y1="323.75" x2="335.50" y2="323.75" stroke-linecap="butt"/>
<line x1="330.25" y1="317.45" x2="330.25" y2="330.05"/>
<line x1="335.00" y1="313.50" x2="345.88" y2="313.50" stroke-linecap="butt"/>
<line x1="340.25" y1="307.20" x2="340.25" y2="319.80"/>
<line x1="345.38" y1="334.30" x2="356.50" y2="334.30" stroke-linecap="butt"/>
<line x1="351.00" y1="328.00" x2="351.00" y2="340.60"/>
<line x1="356.00" y1="315.50" x2="366.88" y2="315.50" stroke-linecap="butt"/>
<line x1="361.50" y1="309.20" x2="361.50" y2="321.80"/>
<line x1="366.38" y1="322.50" x2="377.12" y2="322.50" stroke-linecap="butt"/>
<line x1="371.75" y1="316.20" x2="371.75" y2="328.80"/>
<line x1="376.62" y1="328.50" x2="387.38" y2="328.50" stroke-linecap="butt"/>
<line x1="382.00" y1="322.20" x2="382.00" y2="334.80"/>
<line x1="386.88" y1="328.50" x2="397.75" y2="328.50" stroke-linecap="butt"/>
<line x1="392.25" y1="322.20" x2="392.25" y2="334.80"/>
<line x1="397.25" y1="318.50" x2="408.12" y2="318.50" stroke-linecap="butt"/>
<line x1="402.75" y1="312.20" x2="402.75" y2="324.80"/>
<line x1="407.62" y1="323.00" x2="418.50" y2="323.00" stroke-linecap="butt"/>
<line x1="413.00" y1="316.70" x2="413.00" y2="329.30"/>
<line x1="418.00" y1="324.25" x2="428.88" y2="324.25" stroke-linecap="butt"/>
<line x1="423.50" y1="317.95" x2="423.50" y2="330.55"/>
<line x1="428.38" y1="323.75" x2="439.25" y2="323.75" stroke-linecap="butt"/>
<line x1="433.75" y1="317.45" x2="433.75" y2="330.05"/>
<line x1="438.75" y1="322.50" x2="449.75" y2="322.50" stroke-linecap="butt"/>
<line x1="444.25" y1="316.20" x2="444.25" y2="328.80"/>
<line x1="449.25" y1="320.50" x2="460.12" y2="320.50" stroke-linecap="butt"/>
<line x1="454.75" y1="314.20" x2="454.75" y2="326.80"/>
<line x1="459.62" y1="325.70" x2="470.50" y2="325.70" stroke-linecap="butt"/>
<line x1="465.00" y1="319.40" x2="465.00" y2="332.00"/>
<line x1="470.00" y1="323.50" x2="481.00" y2="323.50" stroke-linecap="butt"/>
<line x1="475.50" y1="317.20" x2="475.50" y2="329.80"/>
<line x1="480.50" y1="328.30" x2="491.50" y2="328.30" stroke-linecap="butt"/>
<line x1="486.00" y1="322.00" x2="486.00" y2="334.60"/>
<line x1="491.00" y1="333.75" x2="502.00" y2="333.75" stroke-linecap="butt"/>
<line x1="496.50" y1="327.45" x2="496.50" y2="340.05"/>
<line x1="501.50" y1="336.00" x2="512.50" y2="336.00" stroke-linecap="butt"/>
<line x1="507.00" y1="329.70" x2="507.00" y2="342.30"/>
<line x1="512.00" y1="337.50" x2="523.00" y2="337.50" stroke-linecap="butt"/>
<line x1="517.50" y1="331.20" x2="517.50" y2="343.80"/>
<line x1="522.50" y1="344.25" x2="533.50" y2="344.25" stroke-linecap="butt"/>
<line x1="528.00" y1="337.95" x2="528.00" y2="350.55"/>
<line x1="533.00" y1="335.50" x2="544.12" y2="335.50" stroke-linecap="butt"/>
<line x1="538.50" y1="329.20" x2="538.50" y2="341.80"/>
<line x1="544.25" y1="338.90" x2="554.85" y2="338.90" stroke-linecap="butt"/>
<line x1="549.25" y1="332.60" x2="549.25" y2="345.20"/>
<line x1="554.35" y1="330.10" x2="575.85" y2="330.10" stroke-linecap="butt"/>
<line x1="565.00" y1="323.80" x2="565.00" y2="336.40"/>
<line x1="575.35" y1="347.80" x2="596.85" y2="347.80" stroke-linecap="butt"/>
<line x1="586.00" y1="341.50" x2="586.00" y2="354.10"/>
<line x1="81.75" y1="494.80" x2="92.25" y2="494.80" stroke-linecap="butt"/>
<line x1="87.00" y1="492.39" x2="87.00" y2="497.21"/>
<line x1="91.75" y1="504.50" x2="102.25" y2="504.50" stroke-linecap="butt"/>
<line x1="97.00" y1="502.09" x2="97.00" y2="506.91"/>
<line x1="101.75" y1="510.75" x2="112.25" y2="510.75" stroke-linecap="butt"/>
<line x1="107.00" y1="508.34" x2="107.00" y2="513.16"/>
<line x1="111.75" y1="514.25" x2="122.25" y2="514.25" stroke-linecap="butt"/>
<line x1="117.00" y1="511.84" x2="117.00" y2="516.66"/>
<line x1="121.75" y1="520.50" x2="132.25" y2="520.50" stroke-linecap="butt"/>
<line x1="127.00" y1="518.09" x2="127.00" y2="522.91"/>
<line x1="131.75" y1="520.50" x2="142.25" y2="520.50" stroke-linecap="butt"/>
<line x1="137.00" y1="518.09" x2="137.00" y2="522.91"/>
<line x1="141.75" y1="524.00" x2="152.25" y2="524.00" stroke-linecap="butt"/>
<line x1="147.00" y1="521.59" x2="147.00" y2="526.41"/>
<line x1="151.75" y1="520.25" x2="162.38" y2="520.25" stroke-linecap="butt"/>
<line x1="157.00" y1="517.84" x2="157.00" y2="522.66"/>
<line x1="161.88" y1="518.25" x2="172.50" y2="518.25" stroke-linecap="butt"/>
<line x1="167.25" y1="515.84" x2="167.25" y2="520.66"/>
<line x1="172.00" y1="525.50" x2="182.50" y2="525.50" stroke-linecap="butt"/>
<line x1="177.25" y1="523.09" x2="177.25" y2="527.91"/>
<line x1="182.00" y1="526.75" x2="192.50" y2="526.75" stroke-linecap="butt"/>
<line x1="187.25" y1="524.34" x2="187.25" y2="529.16"/>
<line x1="192.00" y1="523.50" x2="202.75" y2="523.50" stroke-linecap="butt"/>
<line x1="197.25" y1="521.09" x2="197.25" y2="525.91"/>
<line x1="202.25" y1="516.00" x2="213.00" y2="516.00" stroke-linecap="butt"/>
<line x1="207.75" y1="513.59" x2="207.75" y2="518.41"/>
<line x1="212.50" y1="510.90" x2="223.12" y2="510.90" stroke-linecap="butt"/>
<line x1="217.75" y1="508.49" x2="217.75" y2="513.31"/>
<line x1="222.62" y1="509.50" x2="233.38" y2="509.50" stroke-linecap="butt"/>
<line x1="228.00" y1="507.09" x2="228.00" y2="511.91"/>
<line x1="232.88" y1="506.50" x2="243.50" y2="506.50" stroke-linecap="butt"/>
<line x1="238.25" y1="504.09" x2="238.25" y2="508.91"/>
<line x1="243.00" y1="501.75" x2="253.62" y2="501.75" stroke-linecap="butt"/>
<line x1="248.25" y1="499.34" x2="248.25" y2="504.16"/>
<line x1="253.12" y1="498.75" x2="263.88" y2="498.75" stroke-linecap="butt"/>
<line x1="258.50" y1="496.34" x2="258.50" y2="501.16"/>
<line x1="263.38" y1="495.00" x2="274.12" y2="495.00" stroke-linecap="butt"/>
<line x1="268.75" y1="492.59" x2="268.75" y2="497.41"/>
<line x1="273.62" y1="494.75" x2="284.38" y2="494.75" stroke-linecap="butt"/>
<line x1="279.00" y1="492.34" x2="279.00" y2="497.16"/>
<line x1="283.88" y1="490.50" x2="294.62" y2="490.50" stroke-linecap="butt"/>
<line x1="289.25" y1="488.09" x2="289.25" y2="492.91"/>
<line x1="294.12" y1="483.25" x2="304.88" y2="483.25" stroke-linecap="butt"/>
<line x1="299.50" y1="480.84" x2="299.50" y2="485.66"/>
<line x1="304.38" y1="480.50" x2="315.12" y2="480.50" stroke-linecap="butt"/>
<line x1="309.75" y1="478.09" x2="309.75" y2="482.91"/>
<line x1="314.62" y1="479.25" x2="325.38" y2="479.25" stroke-linecap="butt"/>
<line x1="320.00" y1="476.84" x2="320.00" y2="481.66"/>
<line x1="324.88" y1="474.25" x2="335.50" y2="474.25" stroke-linecap="butt"/>
<line x1="330.25" y1="471.84" x2="330.25" y2="476.66"/>
<line x1="335.00" y1="472.70" x2="345.88" y2="472.70" stroke-linecap="butt"/>
<line x1="340.25" y1="470.29" x2="340.25" y2="475.11"/>
<line x1="345.38" y1="472.10" x2="356.50" y2="472.10" stroke-linecap="butt"/>
<line x1="351.00" y1="469.69" x2="351.00" y2="474.51"/>
<line x1="356.00" y1="464.50" x2="366.88" y2="464.50" stroke-linecap="butt"/>
<line x1="361.50" y1="462.09" x2="361.50" y2="466.91"/>
<line x1="366.38" y1="461.75" x2="377.12" y2="461.75" stroke-linecap="butt"/>
<line x1="371.75" y1="459.34" x2="371.75" y2="464.16"/>
<line x1="376.62" y1="458.50" x2="387.38" y2="458.50" stroke-linecap="butt"/>
<line x1="382.00" y1="456.09" x2="382.00" y2="460.91"/>
<line x1="386.88" y1="460.00" x2="397.75" y2="460.00" stroke-linecap="butt"/>
<line x1="392.25" y1="457.59" x2="392.25" y2="462.41"/>
<line x1="397.25" y1="455.00" x2="408.12" y2="455.00" stroke-linecap="butt"/>
<line x1="402.75" y1="452.59" x2="402.75" y2="457.41"/>
<line x1="407.62" y1="461.00" x2="418.50" y2="461.00" stroke-linecap="butt"/>
<line x1="413.00" y1="458.59" x2="413.00" y2="463.41"/>
<line x1="418.00" y1="455.50" x2="428.88" y2="455.50" stroke-linecap="butt"/>
<line x1="423.50" y1="453.09" x2="423.50" y2="457.91"/>
<line x1="428.38" y1="455.00" x2="439.25" y2="455.00" stroke-linecap="butt"/>
<line x1="433.75" y1="452.59" x2="433.75" y2="457.41"/>
<line x1="438.75" y1="451.00" x2="449.75" y2="451.00" stroke-linecap="butt"/>
<line x1="444.25" y1="448.59" x2="444.25" y2="453.41"/>
<line x1="449.25" y1="447.25" x2="460.12" y2="447.25" stroke-linecap="butt"/>
<line x1="454.75" y1="444.84" x2="454.75" y2="449.66"/>
<line x1="459.62" y1="450.50" x2="470.50" y2="450.50" stroke-linecap="butt"/>
<line x1="465.00" y1="448.09" x2="465.00" y2="452.91"/>
<line x1="470.00" y1="446.25" x2="481.00" y2="446.25" stroke-linecap="butt"/>
<line x1="475.50" y1="443.84" x2="475.50" y2="448.66"/>
<line x1="480.50" y1="445.20" x2="491.50" y2="445.20" stroke-linecap="butt"/>
<line x1="486.00" y1="442.79" x2="486.00" y2="447.61"/>
<line x1="491.00" y1="444.75" x2="502.00" y2="444.75" stroke-linecap="butt"/>
<line x1="496.50" y1="442.34" x2="496.50" y2="447.16"/>
<line x1="501.50" y1="443.50" x2="512.50" y2="443.50" stroke-linecap="butt"/>
<line x1="507.00" y1="441.09" x2="507.00" y2="445.91"/>
<line x1="512.00" y1="445.50" x2="523.00" y2="445.50" stroke-linecap="butt"/>
<line x1="517.50" y1="443.09" x2="517.50" y2="447.91"/>
<line x1="522.50" y1="450.00" x2="533.50" y2="450.00" stroke-linecap="butt"/>
<line x1="528.00" y1="447.59" x2="528.00" y2="452.41"/>
<line x1="533.00" y1="440.50" x2="544.12" y2="440.50" stroke-linecap="butt"/>
<line x1="538.50" y1="438.09" x2="538.50" y2="442.91"/>
<line x1="544.25" y1="440.00" x2="554.85" y2="440.00" stroke-linecap="butt"/>
<line x1="549.25" y1="437.59" x2="549.25" y2="442.41"/>
<line x1="554.35" y1="450.00" x2="575.85" y2="450.00" stroke-linecap="butt"/>
<line x1="565.00" y1="447.59" x2="565.00" y2="452.41"/>
<line x1="575.35" y1="442.25" x2="596.85" y2="442.25" stroke-linecap="butt"/>
<line x1="586.00" y1="439.84" x2="586.00" y2="444.66"/>
</g>
<g fill="#000">
<polygon points="87.00,16.75 87.94,19.62 90.47,19.82 88.52,21.80 89.14,24.80 87.00,23.15 84.86,24.80 85.48,21.80 83.53,19.82 86.06,19.62"/>
<polygon points="97.00,27.05 97.94,29.92 100.47,30.12 98.52,32.10 99.14,35.10 97.00,33.45 94.86,35.10 95.48,32.10 93.53,30.12 96.06,29.92"/>
<polygon points="107.00,36.25 107.94,39.12 110.47,39.32 108.52,41.30 109.14,44.30 107.00,42.65 104.86,44.30 105.48,41.30 103.53,39.32 106.06,39.12"/>
<polygon points="117.00,49.90 117.94,52.77 120.47,52.97 118.52,54.95 119.14,57.95 117.00,56.30 114.86,57.95 115.48,54.95 113.53,52.97 116.06,52.77"/>
<polygon points="127.00,71.70 127.94,74.57 130.47,74.77 128.52,76.75 129.14,79.75 127.00,78.10 124.86,79.75 125.48,76.75 123.53,74.77 126.06,74.57"/>
<polygon points="137.00,73.65 137.94,76.52 140.47,76.72 138.52,78.70 139.14,81.70 137.00,80.05 134.86,81.70 135.48,78.70 133.53,76.72 136.06,76.52"/>
<polygon points="147.00,67.60 147.94,70.47 150.47,70.67 148.52,72.65 149.14,75.65 147.00,74.00 144.86,75.65 145.48,72.65 143.53,70.67 146.06,70.47"/>
<polygon points="157.00,74.80 157.94,77.67 160.47,77.87 158.52,79.85 159.14,82.85 157.00,81.20 154.86,82.85 155.48,79.85 153.53,77.87 156.06,77.67"/>
<polygon points="167.25,83.40 168.19,86.27 170.72,86.47 168.77,88.45 169.39,91.45 167.25,89.80 165.11,91.45 165.73,88.45 163.78,86.47 166.31,86.27"/>
<polygon points="177.25,89.30 178.19,92.17 180.72,92.37 178.77,94.35 179.39,97.35 177.25,95.70 175.11,97.35 175.73,94.35 173.78,92.37 176.31,92.17"/>
<polygon points="187.25,94.90 188.19,97.77 190.72,97.97 188.77,99.95 189.39,102.95 187.25,101.30 185.11,102.95 185.73,99.95 183.78,97.97 186.31,97.77"/>
<polygon points="197.25,94.90 198.19,97.77 200.72,97.97 198.77,99.95 199.39,102.95 197.25,101.30 195.11,102.95 195.73,99.95 193.78,97.97 196.31,97.77"/>
<polygon points="207.75,94.80 208.69,97.67 211.22,97.87 209.27,99.85 209.89,102.85 207.75,101.20 205.61,102.85 206.23,99.85 204.28,97.87 206.81,97.67"/>
<polygon points="217.75,96.55 218.69,99.42 221.22,99.62 219.27,101.60 219.89,104.60 217.75,102.95 215.61,104.60 216.23,101.60 214.28,99.62 216.81,99.42"/>
<polygon points="228.00,96.05 228.94,98.92 231.47,99.12 229.52,101.10 230.14,104.10 228.00,102.45 225.86,104.10 226.48,101.10 224.53,99.12 227.06,98.92"/>
<polygon points="238.25,95.30 239.19,98.17 241.72,98.37 239.77,100.35 240.39,103.35 238.25,101.70 236.11,103.35 236.73,100.35 234.78,98.37 237.31,98.17"/>
<polygon points="248.25,93.05 249.19,95.92 251.72,96.12 249.77,98.10 250.39,101.10 248.25,99.45 246.11,101.10 246.73,98.10 244.78,96.12 247.31,95.92"/>
<polygon points="258.50,95.30 259.44,98.17 261.97,98.37 260.02,100.35 260.64,103.35 258.50,101.70 256.36,103.35 256.98,100.35 255.03,98.37 257.56,98.17"/>
<polygon points="268.75,103.55 269.69,106.42 272.22,106.62 270.27,108.60 270.89,111.60 268.75,109.95 266.61,111.60 267.23,108.60 265.28,106.62 267.81,106.42"/>
<polygon points="279.00,96.55 279.94,99.42 282.47,99.62 280.52,101.60 281.14,104.60 279.00,102.95 276.86,104.60 277.48,101.60 275.53,99.62 278.06,99.42"/>
<polygon points="289.25,99.80 290.19,102.67 292.72,102.87 290.77,104.85 291.39,107.85 289.25,106.20 287.11,107.85 287.73,104.85 285.78,102.87 288.31,102.67"/>
<polygon points="299.50,104.80 300.44,107.67 302.97,107.87 301.02,109.85 301.64,112.85 299.50,111.20 297.36,112.85 297.98,109.85 296.03,107.87 298.56,107.67"/>
<polygon points="309.75,100.55 310.69,103.42 313.22,103.62 311.27,105.60 311.89,108.60 309.75,106.95 307.61,108.60 308.23,105.60 306.28,103.62 308.81,103.42"/>
<polygon points="320.00,96.05 320.94,98.92 323.47,99.12 321.52,101.10 322.14,104.10 320.00,102.45 317.86,104.10 318.48,101.10 316.53,99.12 319.06,98.92"/>
<polygon points="330.25,102.65 331.19,105.52 333.72,105.72 331.77,107.70 332.39,110.70 330.25,109.05 328.11,110.70 328.73,107.70 326.78,105.72 329.31,105.52"/>
<polygon points="340.25,99.30 341.19,102.17 343.72,102.37 341.77,104.35 342.39,107.35 340.25,105.70 338.11,107.35 338.73,104.35 336.78,102.37 339.31,102.17"/>
<polygon points="351.00,101.80 351.94,104.67 354.47,104.87 352.52,106.85 353.14,109.85 351.00,108.20 348.86,109.85 349.48,106.85 347.53,104.87 350.06,104.67"/>
<polygon points="361.50,102.80 362.44,105.67 364.97,105.87 363.02,107.85 363.64,110.85 361.50,109.20 359.36,110.85 359.98,107.85 358.03,105.87 360.56,105.67"/>
<polygon points="371.75,100.30 372.69,103.17 375.22,103.37 373.27,105.35 373.89,108.35 371.75,106.70 369.61,108.35 370.23,105.35 368.28,103.37 370.81,103.17"/>
<polygon points="382.00,104.30 382.94,107.17 385.47,107.37 383.52,109.35 384.14,112.35 382.00,110.70 379.86,112.35 380.48,109.35 378.53,107.37 381.06,107.17"/>
<polygon points="392.25,99.30 393.19,102.17 395.72,102.37 393.77,104.35 394.39,107.35 392.25,105.70 390.11,107.35 390.73,104.35 388.78,102.37 391.31,102.17"/>
<polygon points="402.75,101.30 403.69,104.17 406.22,104.37 404.27,106.35 404.89,109.35 402.75,107.70 400.61,109.35 401.23,106.35 399.28,104.37 401.81,104.17"/>
<polygon points="413.00,109.30 413.94,112.17 416.47,112.37 414.52,114.35 415.14,117.35 413.00,115.70 410.86,117.35 411.48,114.35 409.53,112.37 412.06,112.17"/>
<polygon points="423.50,100.55 424.44,103.42 426.97,103.62 425.02,105.60 425.64,108.60 423.50,106.95 421.36,108.60 421.98,105.60 420.03,103.62 422.56,103.42"/>
<polygon points="433.75,101.80 434.69,104.67 437.22,104.87 435.27,106.85 435.89,109.85 433.75,108.20 431.61,109.85 432.23,106.85 430.28,104.87 432.81,104.67"/>
<polygon points="444.25,107.30 445.19,110.17 447.72,110.37 445.77,112.35 446.39,115.35 444.25,113.70 442.11,115.35 442.73,112.35 440.78,110.37 443.31,110.17"/>
<polygon points="454.75,102.80 455.69,105.67 458.22,105.87 456.27,107.85 456.89,110.85 454.75,109.20 452.61,110.85 453.23,107.85 451.28,105.87 453.81,105.67"/>
<polygon points="465.00,95.30 465.94,98.17 468.47,98.37 466.52,100.35 467.14,103.35 465.00,101.70 462.86,103.35 463.48,100.35 461.53,98.37 464.06,98.17"/>
<polygon points="475.50,101.55 476.44,104.42 478.97,104.62 477.02,106.60 477.64,109.60 475.50,107.95 473.36,109.60 473.98,106.60 472.03,104.62 474.56,104.42"/>
<polygon points="486.00,101.80 486.94,104.67 489.47,104.87 487.52,106.85 488.14,109.85 486.00,108.20 483.86,109.85 484.48,106.85 482.53,104.87 485.06,104.67"/>
<polygon points="496.50,107.55 497.44,110.42 499.97,110.62 498.02,112.60 498.64,115.60 496.50,113.95 494.36,115.60 494.98,112.60 493.03,110.62 495.56,110.42"/>
<polygon points="507.00,103.55 507.94,106.42 510.47,106.62 508.52,108.60 509.14,111.60 507.00,109.95 504.86,111.60 505.48,108.60 503.53,106.62 506.06,106.42"/>
<polygon points="517.50,108.05 518.44,110.92 520.97,111.12 519.02,113.10 519.64,116.10 517.50,114.45 515.36,116.10 515.98,113.10 514.03,111.12 516.56,110.92"/>
<polygon points="528.00,104.30 528.94,107.17 531.47,107.37 529.52,109.35 530.14,112.35 528.00,110.70 525.86,112.35 526.48,109.35 524.53,107.37 527.06,107.17"/>
<polygon points="538.50,109.80 539.44,112.67 541.97,112.87 540.02,114.85 540.64,117.85 538.50,116.20 536.36,117.85 536.98,114.85 535.03,112.87 537.56,112.67"/>
<polygon points="549.25,108.55 550.19,111.42 552.72,111.62 550.77,113.60 551.39,116.60 549.25,114.95 547.11,116.60 547.73,113.60 545.78,111.62 548.31,111.42"/>
<polygon points="565.00,102.30 565.94,105.17 568.47,105.37 566.52,107.35 567.14,110.35 565.00,108.70 562.86,110.35 563.48,107.35 561.53,105.37 564.06,105.17"/>
<polygon points="586.00,101.05 586.94,103.92 589.47,104.12 587.52,106.10 588.14,109.10 586.00,107.45 583.86,109.10 584.48,106.10 582.53,104.12 585.06,103.92"/>
<polygon points="87.00,184.05 87.94,186.92 90.47,187.12 88.52,189.10 89.14,192.10 87.00,190.45 84.86,192.10 85.48,189.10 83.53,187.12 86.06,186.92"/>
<polygon points="97.00,177.30 97.94,180.17 100.47,180.37 98.52,182.35 99.14,185.35 97.00,183.70 94.86,185.35 95.48,182.35 93.53,180.37 96.06,180.17"/>
<polygon points="107.00,173.55 107.94,176.42 110.47,176.62 108.52,178.60 109.14,181.60 107.00,179.95 104.86,181.60 105.48,178.60 103.53,176.62 106.06,176.42"/>
<polygon points="117.00,173.55 117.94,176.42 120.47,176.62 118.52,178.60 119.14,181.60 117.00,179.95 114.86,181.60 115.48,178.60 113.53,176.62 116.06,176.42"/>
<polygon points="127.00,178.30 127.94,181.17 130.47,181.37 128.52,183.35 129.14,186.35 127.00,184.70 124.86,186.35 125.48,183.35 123.53,181.37 126.06,181.17"/>
<polygon points="137.00,184.80 137.94,187.67 140.47,187.87 138.52,189.85 139.14,192.85 137.00,191.20 134.86,192.85 135.48,189.85 133.53,187.87 136.06,187.67"/>
<polygon points="147.00,181.30 147.94,184.17 150.47,184.37 148.52,186.35 149.14,189.35 147.00,187.70 144.86,189.35 145.48,186.35 143.53,184.37 146.06,184.17"/>
<polygon points="157.00,185.30 157.94,188.17 160.47,188.37 158.52,190.35 159.14,193.35 157.00,191.70 154.86,193.35 155.48,190.35 153.53,188.37 156.06,188.17"/>
<polygon points="167.25,189.05 168.19,191.92 170.72,192.12 168.77,194.10 169.39,197.10 167.25,195.45 165.11,197.10 165.73,194.10 163.78,192.12 166.31,191.92"/>
<polygon points="177.25,194.80 178.19,197.67 180.72,197.87 178.77,199.85 179.39,202.85 177.25,201.20 175.11,202.85 175.73,199.85 173.78,197.87 176.31,197.67"/>
<polygon points="187.25,193.55 188.19,196.42 190.72,196.62 188.77,198.60 189.39,201.60 187.25,199.95 185.11,201.60 185.73,198.60 183.78,196.62 186.31,196.42"/>
<polygon points="197.25,199.30 198.19,202.17 200.72,202.37 198.77,204.35 199.39,207.35 197.25,205.70 195.11,207.35 195.73,204.35 193.78,202.37 196.31,202.17"/>
<polygon points="207.75,202.55 208.69,205.42 211.22,205.62 209.27,207.60 209.89,210.60 207.75,208.95 205.61,210.60 206.23,207.60 204.28,205.62 206.81,205.42"/>
<polygon points="217.75,203.30 218.69,206.17 221.22,206.37 219.27,208.35 219.89,211.35 217.75,209.70 215.61,211.35 216.23,208.35 214.28,206.37 216.81,206.17"/>
<polygon points="228.00,208.80 228.94,211.67 231.47,211.87 229.52,213.85 230.14,216.85 228.00,215.20 225.86,216.85 226.48,213.85 224.53,211.87 227.06,211.67"/>
<polygon points="238.25,209.30 239.19,212.17 241.72,212.37 239.77,214.35 240.39,217.35 238.25,215.70 236.11,217.35 236.73,214.35 234.78,212.37 237.31,212.17"/>
<polygon points="248.25,210.05 249.19,212.92 251.72,213.12 249.77,215.10 250.39,218.10 248.25,216.45 246.11,218.10 246.73,215.10 244.78,213.12 247.31,212.92"/>
<polygon points="258.50,217.80 259.44,220.67 261.97,220.87 260.02,222.85 260.64,225.85 258.50,224.20 256.36,225.85 256.98,222.85 255.03,220.87 257.56,220.67"/>
<polygon points="268.75,221.05 269.69,223.92 272.22,224.12 270.27,226.10 270.89,229.10 268.75,227.45 266.61,229.10 267.23,226.10 265.28,224.12 267.81,223.92"/>
<polygon points="279.00,219.05 279.94,221.92 282.47,222.12 280.52,224.10 281.14,227.10 279.00,225.45 276.86,227.10 277.48,224.10 275.53,222.12 278.06,221.92"/>
<polygon points="289.25,222.55 290.19,225.42 292.72,225.62 290.77,227.60 291.39,230.60 289.25,228.95 287.11,230.60 287.73,227.60 285.78,225.62 288.31,225.42"/>
<polygon points="299.50,222.55 300.44,225.42 302.97,225.62 301.02,227.60 301.64,230.60 299.50,228.95 297.36,230.60 297.98,227.60 296.03,225.62 298.56,225.42"/>
<polygon points="309.75,223.30 310.69,226.17 313.22,226.37 311.27,228.35 311.89,231.35 309.75,229.70 307.61,231.35 308.23,228.35 306.28,226.37 308.81,226.17"/>
<polygon points="320.00,225.55 320.94,228.42 323.47,228.62 321.52,230.60 322.14,233.60 320.00,231.95 317.86,233.60 318.48,230.60 316.53,228.62 319.06,228.42"/>
<polygon points="330.25,226.05 331.19,228.92 333.72,229.12 331.77,231.10 332.39,234.10 330.25,232.45 328.11,234.10 328.73,231.10 326.78,229.12 329.31,228.92"/>
<polygon points="340.25,231.65 341.19,234.52 343.72,234.72 341.77,236.70 342.39,239.70 340.25,238.05 338.11,239.70 338.73,236.70 336.78,234.72 339.31,234.52"/>
<polygon points="351.00,225.45 351.94,228.32 354.47,228.52 352.52,230.50 353.14,233.50 351.00,231.85 348.86,233.50 349.48,230.50 347.53,228.52 350.06,228.32"/>
<polygon points="361.50,231.05 362.44,233.92 364.97,234.12 363.02,236.10 363.64,239.10 361.50,237.45 359.36,239.10 359.98,236.10 358.03,234.12 360.56,233.92"/>
<polygon points="371.75,232.80 372.69,235.67 375.22,235.87 373.27,237.85 373.89,240.85 371.75,239.20 369.61,240.85 370.23,237.85 368.28,235.87 370.81,235.67"/>
<polygon points="382.00,229.80 382.94,232.67 385.47,232.87 383.52,234.85 384.14,237.85 382.00,236.20 379.86,237.85 380.48,234.85 378.53,232.87 381.06,232.67"/>
<polygon points="392.25,231.05 393.19,233.92 395.72,234.12 393.77,236.10 394.39,239.10 392.25,237.45 390.11,239.10 390.73,236.10 388.78,234.12 391.31,233.92"/>
<polygon points="402.75,231.80 403.69,234.67 406.22,234.87 404.27,236.85 404.89,239.85 402.75,238.20 400.61,239.85 401.23,236.85 399.28,234.87 401.81,234.67"/>
<polygon points="413.00,234.30 413.94,237.17 416.47,237.37 414.52,239.35 415.14,242.35 413.00,240.70 410.86,242.35 411.48,239.35 409.53,237.37 412.06,237.17"/>
<polygon points="423.50,236.05 424.44,238.92 426.97,239.12 425.02,241.10 425.64,244.10 423.50,242.45 421.36,244.10 421.98,241.10 420.03,239.12 422.56,238.92"/>
<polygon points="433.75,237.05 434.69,239.92 437.22,240.12 435.27,242.10 435.89,245.10 433.75,243.45 431.61,245.10 432.23,242.10 430.28,240.12 432.81,239.92"/>
<polygon points="444.25,236.05 445.19,238.92 447.72,239.12 445.77,241.10 446.39,244.10 444.25,242.45 442.11,244.10 442.73,241.10 440.78,239.12 443.31,238.92"/>
<polygon points="454.75,230.05 455.69,232.92 458.22,233.12 456.27,235.10 456.89,238.10 454.75,236.45 452.61,238.10 453.23,235.10 451.28,233.12 453.81,232.92"/>
<polygon points="465.00,235.55 465.94,238.42 468.47,238.62 466.52,240.60 467.14,243.60 465.00,241.95 462.86,243.60 463.48,240.60 461.53,238.62 464.06,238.42"/>
<polygon points="475.50,235.55 476.44,238.42 478.97,238.62 477.02,240.60 477.64,243.60 475.50,241.95 473.36,243.60 473.98,240.60 472.03,238.62 474.56,238.42"/>
<polygon points="486.00,238.55 486.94,241.42 489.47,241.62 487.52,243.60 488.14,246.60 486.00,244.95 483.86,246.60 484.48,243.60 482.53,241.62 485.06,241.42"/>
<polygon points="496.50,240.30 497.44,243.17 499.97,243.37 498.02,245.35 498.64,248.35 496.50,246.70 494.36,248.35 494.98,245.35 493.03,243.37 495.56,243.17"/>
<polygon points="507.00,239.05 507.94,241.92 510.47,242.12 508.52,244.10 509.14,247.10 507.00,245.45 504.86,247.10 505.48,244.10 503.53,242.12 506.06,241.92"/>
<polygon points="517.50,238.80 518.44,241.67 520.97,241.87 519.02,243.85 519.64,246.85 517.50,245.20 515.36,246.85 515.98,243.85 514.03,241.87 516.56,241.67"/>
<polygon points="528.00,239.80 528.94,242.67 531.47,242.87 529.52,244.85 530.14,247.85 528.00,246.20 525.86,247.85 526.48,244.85 524.53,242.87 527.06,242.67"/>
<polygon points="538.50,238.55 539.44,241.42 541.97,241.62 540.02,243.60 540.64,246.60 538.50,244.95 536.36,246.60 536.98,243.60 535.03,241.62 537.56,241.42"/>
<polygon points="549.25,241.55 550.19,244.42 552.72,244.62 550.77,246.60 551.39,249.60 549.25,247.95 547.11,249.60 547.73,246.60 545.78,244.62 548.31,244.42"/>
<polygon points="565.00,240.30 565.94,243.17 568.47,243.37 566.52,245.35 567.14,248.35 565.00,246.70 562.86,248.35 563.48,245.35 561.53,243.37 564.06,243.17"/>
<polygon points="586.00,241.80 586.94,244.67 589.47,244.87 587.52,246.85 588.14,249.85 586.00,248.20 583.86,249.85 584.48,246.85 582.53,244.87 585.06,244.67"/>
<polygon points="87.00,400.75 87.94,403.62 90.47,403.82 88.52,405.80 89.14,408.80 87.00,407.15 84.86,408.80 85.48,405.80 83.53,403.82 86.06,403.62"/>
<polygon points="97.00,400.75 97.94,403.62 100.47,403.82 98.52,405.80 99.14,408.80 97.00,407.15 94.86,408.80 95.48,405.80 93.53,403.82 96.06,403.62"/>
<polygon points="107.00,386.05 107.94,388.92 110.47,389.12 108.52,391.10 109.14,394.10 107.00,392.45 104.86,394.10 105.48,391.10 103.53,389.12 106.06,388.92"/>
<polygon points="117.00,380.75 117.94,383.62 120.47,383.82 118.52,385.80 119.14,388.80 117.00,387.15 114.86,388.80 115.48,385.80 113.53,383.82 116.06,383.62"/>
<polygon points="127.00,384.15 127.94,387.02 130.47,387.22 128.52,389.20 129.14,392.20 127.00,390.55 124.86,392.20 125.48,389.20 123.53,387.22 126.06,387.02"/>
<polygon points="137.00,365.05 137.94,367.92 140.47,368.12 138.52,370.10 139.14,373.10 137.00,371.45 134.86,373.10 135.48,370.10 133.53,368.12 136.06,367.92"/>
<polygon points="147.00,353.25 147.94,356.12 150.47,356.32 148.52,358.30 149.14,361.30 147.00,359.65 144.86,361.30 145.48,358.30 143.53,356.32 146.06,356.12"/>
<polygon points="157.00,338.45 157.94,341.32 160.47,341.52 158.52,343.50 159.14,346.50 157.00,344.85 154.86,346.50 155.48,343.50 153.53,341.52 156.06,341.32"/>
<polygon points="167.25,340.45 168.19,343.32 170.72,343.52 168.77,345.50 169.39,348.50 167.25,346.85 165.11,348.50 165.73,345.50 163.78,343.52 166.31,343.32"/>
<polygon points="177.25,337.35 178.19,340.22 180.72,340.42 178.77,342.40 179.39,345.40 177.25,343.75 175.11,345.40 175.73,342.40 173.78,340.42 176.31,340.22"/>
<polygon points="187.25,334.95 188.19,337.82 190.72,338.02 188.77,340.00 189.39,343.00 187.25,341.35 185.11,343.00 185.73,340.00 183.78,338.02 186.31,337.82"/>
<polygon points="197.25,325.75 198.19,328.62 200.72,328.82 198.77,330.80 199.39,333.80 197.25,332.15 195.11,333.80 195.73,330.80 193.78,328.82 196.31,328.62"/>
<polygon points="207.75,325.05 208.69,327.92 211.22,328.12 209.27,330.10 209.89,333.10 207.75,331.45 205.61,333.10 206.23,330.10 204.28,328.12 206.81,327.92"/>
<polygon points="217.75,317.05 218.69,319.92 221.22,320.12 219.27,322.10 219.89,325.10 217.75,323.45 215.61,325.10 216.23,322.10 214.28,320.12 216.81,319.92"/>
<polygon points="228.00,308.35 228.94,311.22 231.47,311.42 229.52,313.40 230.14,316.40 228.00,314.75 225.86,316.40 226.48,313.40 224.53,311.42 227.06,311.22"/>
<polygon points="238.25,317.55 239.19,320.42 241.72,320.62 239.77,322.60 240.39,325.60 238.25,323.95 236.11,325.60 236.73,322.60 234.78,320.62 237.31,320.42"/>
<polygon points="248.25,310.05 249.19,312.92 251.72,313.12 249.77,315.10 250.39,318.10 248.25,316.45 246.11,318.10 246.73,315.10 244.78,313.12 247.31,312.92"/>
<polygon points="258.50,315.55 259.44,318.42 261.97,318.62 260.02,320.60 260.64,323.60 258.50,321.95 256.36,323.60 256.98,320.60 255.03,318.62 257.56,318.42"/>
<polygon points="268.75,314.05 269.69,316.92 272.22,317.12 270.27,319.10 270.89,322.10 268.75,320.45 266.61,322.10 267.23,319.10 265.28,317.12 267.81,316.92"/>
<polygon points="279.00,314.05 279.94,316.92 282.47,317.12 280.52,319.10 281.14,322.10 279.00,320.45 276.86,322.10 277.48,319.10 275.53,317.12 278.06,316.92"/>
<polygon points="289.25,309.80 290.19,312.67 292.72,312.87 290.77,314.85 291.39,317.85 289.25,316.20 287.11,317.85 287.73,314.85 285.78,312.87 288.31,312.67"/>
<polygon points="299.50,315.05 300.44,317.92 302.97,318.12 301.02,320.10 301.64,323.10 299.50,321.45 297.36,323.10 297.98,320.10 296.03,318.12 298.56,317.92"/>
<polygon points="309.75,312.80 310.69,315.67 313.22,315.87 311.27,317.85 311.89,320.85 309.75,319.20 307.61,320.85 308.23,317.85 306.28,315.87 308.81,315.67"/>
<polygon points="320.00,317.05 320.94,319.92 323.47,320.12 321.52,322.10 322.14,325.10 320.00,323.45 317.86,325.10 318.48,322.10 316.53,320.12 319.06,319.92"/>
<polygon points="330.25,319.30 331.19,322.17 333.72,322.37 331.77,324.35 332.39,327.35 330.25,325.70 328.11,327.35 328.73,324.35 326.78,322.37 329.31,322.17"/>
<polygon points="340.25,309.05 341.19,311.92 343.72,312.12 341.77,314.10 342.39,317.10 340.25,315.45 338.11,317.10 338.73,314.10 336.78,312.12 339.31,311.92"/>
<polygon points="351.00,329.85 351.94,332.72 354.47,332.92 352.52,334.90 353.14,337.90 351.00,336.25 348.86,337.90 349.48,334.90 347.53,332.92 350.06,332.72"/>
<polygon points="361.50,311.05 362.44,313.92 364.97,314.12 363.02,316.10 363.64,319.10 361.50,317.45 359.36,319.10 359.98,316.10 358.03,314.12 360.56,313.92"/>
<polygon points="371.75,318.05 372.69,320.92 375.22,321.12 373.27,323.10 373.89,326.10 371.75,324.45 369.61,326.10 370.23,323.10 368.28,321.12 370.81,320.92"/>
<polygon points="382.00,324.05 382.94,326.92 385.47,327.12 383.52,329.10 384.14,332.10 382.00,330.45 379.86,332.10 380.48,329.10 378.53,327.12 381.06,326.92"/>
<polygon points="392.25,324.05 393.19,326.92 395.72,327.12 393.77,329.10 394.39,332.10 392.25,330.45 390.11,332.10 390.73,329.10 388.78,327.12 391.31,326.92"/>
<polygon points="402.75,314.05 403.69,316.92 406.22,317.12 404.27,319.10 404.89,322.10 402.75,320.45 400.61,322.10 401.23,319.10 399.28,317.12 401.81,316.92"/>
<polygon points="413.00,318.55 413.94,321.42 416.47,321.62 414.52,323.60 415.14,326.60 413.00,324.95 410.86,326.60 411.48,323.60 409.53,321.62 412.06,321.42"/>
<polygon points="423.50,319.80 424.44,322.67 426.97,322.87 425.02,324.85 425.64,327.85 423.50,326.20 421.36,327.85 421.98,324.85 420.03,322.87 422.56,322.67"/>
<polygon points="433.75,319.30 434.69,322.17 437.22,322.37 435.27,324.35 435.89,327.35 433.75,325.70 431.61,327.35 432.23,324.35 430.28,322.37 432.81,322.17"/>
<polygon points="444.25,318.05 445.19,320.92 447.72,321.12 445.77,323.10 446.39,326.10 444.25,324.45 442.11,326.10 442.73,323.10 440.78,321.12 443.31,320.92"/>
<polygon points="454.75,316.05 455.69,318.92 458.22,319.12 456.27,321.10 456.89,324.10 454.75,322.45 452.61,324.10 453.23,321.10 451.28,319.12 453.81,318.92"/>
<polygon points="465.00,321.25 465.94,324.12 468.47,324.32 466.52,326.30 467.14,329.30 465.00,327.65 462.86,329.30 463.48,326.30 461.53,324.32 464.06,324.12"/>
<polygon points="475.50,319.05 476.44,321.92 478.97,322.12 477.02,324.10 477.64,327.10 475.50,325.45 473.36,327.10 473.98,324.10 472.03,322.12 474.56,321.92"/>
<polygon points="486.00,323.85 486.94,326.72 489.47,326.92 487.52,328.90 488.14,331.90 486.00,330.25 483.86,331.90 484.48,328.90 482.53,326.92 485.06,326.72"/>
<polygon points="496.50,329.30 497.44,332.17 499.97,332.37 498.02,334.35 498.64,337.35 496.50,335.70 494.36,337.35 494.98,334.35 493.03,332.37 495.56,332.17"/>
<polygon points="507.00,331.55 507.94,334.42 510.47,334.62 508.52,336.60 509.14,339.60 507.00,337.95 504.86,339.60 505.48,336.60 503.53,334.62 506.06,334.42"/>
<polygon points="517.50,333.05 518.44,335.92 520.97,336.12 519.02,338.10 519.64,341.10 517.50,339.45 515.36,341.10 515.98,338.10 514.03,336.12 516.56,335.92"/>
<polygon points="528.00,339.80 528.94,342.67 531.47,342.87 529.52,344.85 530.14,347.85 528.00,346.20 525.86,347.85 526.48,344.85 524.53,342.87 527.06,342.67"/>
<polygon points="538.50,331.05 539.44,333.92 541.97,334.12 540.02,336.10 540.64,339.10 538.50,337.45 536.36,339.10 536.98,336.10 535.03,334.12 537.56,333.92"/>
<polygon points="549.25,334.45 550.19,337.32 552.72,337.52 550.77,339.50 551.39,342.50 549.25,340.85 547.11,342.50 547.73,339.50 545.78,337.52 548.31,337.32"/>
<polygon points="565.00,325.65 565.94,328.52 568.47,328.72 566.52,330.70 567.14,333.70 565.00,332.05 562.86,333.70 563.48,330.70 561.53,328.72 564.06,328.52"/>
<polygon points="586.00,343.35 586.94,346.22 589.47,346.42 587.52,348.40 588.14,351.40 586.00,349.75 583.86,351.40 584.48,348.40 582.53,346.42 585.06,346.22"/>
<polygon points="87.00,490.35 87.94,493.22 90.47,493.42 88.52,495.40 89.14,498.40 87.00,496.75 84.86,498.40 85.48,495.40 83.53,493.42 86.06,493.22"/>
<polygon points="97.00,500.05 97.94,502.92 100.47,503.12 98.52,505.10 99.14,508.10 97.00,506.45 94.86,508.10 95.48,505.10 93.53,503.12 96.06,502.92"/>
<polygon points="107.00,506.30 107.94,509.17 110.47,509.37 108.52,511.35 109.14,514.35 107.00,512.70 104.86,514.35 105.48,511.35 103.53,509.37 106.06,509.17"/>
<polygon points="117.00,509.80 117.94,512.67 120.47,512.87 118.52,514.85 119.14,517.85 117.00,516.20 114.86,517.85 115.48,514.85 113.53,512.87 116.06,512.67"/>
<polygon points="127.00,516.05 127.94,518.92 130.47,519.12 128.52,521.10 129.14,524.10 127.00,522.45 124.86,524.10 125.48,521.10 123.53,519.12 126.06,518.92"/>
<polygon points="137.00,516.05 137.94,518.92 140.47,519.12 138.52,521.10 139.14,524.10 137.00,522.45 134.86,524.10 135.48,521.10 133.53,519.12 136.06,518.92"/>
<polygon points="147.00,519.55 147.94,522.42 150.47,522.62 148.52,524.60 149.14,527.60 147.00,525.95 144.86,527.60 145.48,524.60 143.53,522.62 146.06,522.42"/>
<polygon points="157.00,515.80 157.94,518.67 160.47,518.87 158.52,520.85 159.14,523.85 157.00,522.20 154.86,523.85 155.48,520.85 153.53,518.87 156.06,518.67"/>
<polygon points="167.25,513.80 168.19,516.67 170.72,516.87 168.77,518.85 169.39,521.85 167.25,520.20 165.11,521.85 165.73,518.85 163.78,516.87 166.31,516.67"/>
<polygon points="177.25,521.05 178.19,523.92 180.72,524.12 178.77,526.10 179.39,529.10 177.25,527.45 175.11,529.10 175.73,526.10 173.78,524.12 176.31,523.92"/>
<polygon points="187.25,522.30 188.19,525.17 190.72,525.37 188.77,527.35 189.39,530.35 187.25,528.70 185.11,530.35 185.73,527.35 183.78,525.37 186.31,525.17"/>
<polygon points="197.25,519.05 198.19,521.92 200.72,522.12 198.77,524.10 199.39,527.10 197.25,525.45 195.11,527.10 195.73,524.10 193.78,522.12 196.31,521.92"/>
<polygon points="207.75,511.55 208.69,514.42 211.22,514.62 209.27,516.60 209.89,519.60 207.75,517.95 205.61,519.60 206.23,516.60 204.28,514.62 206.81,514.42"/>
<polygon points="217.75,506.45 218.69,509.32 221.22,509.52 219.27,511.50 219.89,514.50 217.75,512.85 215.61,514.50 216.23,511.50 214.28,509.52 216.81,509.32"/>
<polygon points="228.00,505.05 228.94,507.92 231.47,508.12 229.52,510.10 230.14,513.10 228.00,511.45 225.86,513.10 226.48,510.10 224.53,508.12 227.06,507.92"/>
<polygon points="238.25,502.05 239.19,504.92 241.72,505.12 239.77,507.10 240.39,510.10 238.25,508.45 236.11,510.10 236.73,507.10 234.78,505.12 237.31,504.92"/>
<polygon points="248.25,497.30 249.19,500.17 251.72,500.37 249.77,502.35 250.39,505.35 248.25,503.70 246.11,505.35 246.73,502.35 244.78,500.37 247.31,500.17"/>
<polygon points="258.50,494.30 259.44,497.17 261.97,497.37 260.02,499.35 260.64,502.35 258.50,500.70 256.36,502.35 256.98,499.35 255.03,497.37 257.56,497.17"/>
<polygon points="268.75,490.55 269.69,493.42 272.22,493.62 270.27,495.60 270.89,498.60 268.75,496.95 266.61,498.60 267.23,495.60 265.28,493.62 267.81,493.42"/>
<polygon points="279.00,490.30 279.94,493.17 282.47,493.37 280.52,495.35 281.14,498.35 279.00,496.70 276.86,498.35 277.48,495.35 275.53,493.37 278.06,493.17"/>
<polygon points="289.25,486.05 290.19,488.92 292.72,489.12 290.77,491.10 291.39,494.10 289.25,492.45 287.11,494.10 287.73,491.10 285.78,489.12 288.31,488.92"/>
<polygon points="299.50,478.80 300.44,481.67 302.97,481.87 301.02,483.85 301.64,486.85 299.50,485.20 297.36,486.85 297.98,483.85 296.03,481.87 298.56,481.67"/>
<polygon points="309.75,476.05 310.69,478.92 313.22,479.12 311.27,481.10 311.89,484.10 309.75,482.45 307.61,484.10 308.23,481.10 306.28,479.12 308.81,478.92"/>
<polygon points="320.00,474.80 320.94,477.67 323.47,477.87 321.52,479.85 322.14,482.85 320.00,481.20 317.86,482.85 318.48,479.85 316.53,477.87 319.06,477.67"/>
<polygon points="330.25,469.80 331.19,472.67 333.72,472.87 331.77,474.85 332.39,477.85 330.25,476.20 328.11,477.85 328.73,474.85 326.78,472.87 329.31,472.67"/>
<polygon points="340.25,468.25 341.19,471.12 343.72,471.32 341.77,473.30 342.39,476.30 340.25,474.65 338.11,476.30 338.73,473.30 336.78,471.32 339.31,471.12"/>
<polygon points="351.00,467.65 351.94,470.52 354.47,470.72 352.52,472.70 353.14,475.70 351.00,474.05 348.86,475.70 349.48,472.70 347.53,470.72 350.06,470.52"/>
<polygon points="361.50,460.05 362.44,462.92 364.97,463.12 363.02,465.10 363.64,468.10 361.50,466.45 359.36,468.10 359.98,465.10 358.03,463.12 360.56,462.92"/>
<polygon points="371.75,457.30 372.69,460.17 375.22,460.37 373.27,462.35 373.89,465.35 371.75,463.70 369.61,465.35 370.23,462.35 368.28,460.37 370.81,460.17"/>
<polygon points="382.00,454.05 382.94,456.92 385.47,457.12 383.52,459.10 384.14,462.10 382.00,460.45 379.86,462.10 380.48,459.10 378.53,457.12 381.06,456.92"/>
<polygon points="392.25,455.55 393.19,458.42 395.72,458.62 393.77,460.60 394.39,463.60 392.25,461.95 390.11,463.60 390.73,460.60 388.78,458.62 391.31,458.42"/>
<polygon points="402.75,450.55 403.69,453.42 406.22,453.62 404.27,455.60 404.89,458.60 402.75,456.95 400.61,458.60 401.23,455.60 399.28,453.62 401.81,453.42"/>
<polygon points="413.00,456.55 413.94,459.42 416.47,459.62 414.52,461.60 415.14,464.60 413.00,462.95 410.86,464.60 411.48,461.60 409.53,459.62 412.06,459.42"/>
<polygon points="423.50,451.05 424.44,453.92 426.97,454.12 425.02,456.10 425.64,459.10 423.50,457.45 421.36,459.10 421.98,456.10 420.03,454.12 422.56,453.92"/>
<polygon points="433.75,450.55 434.69,453.42 437.22,453.62 435.27,455.60 435.89,458.60 433.75,456.95 431.61,458.60 432.23,455.60 430.28,453.62 432.81,453.42"/>
<polygon points="444.25,446.55 445.19,449.42 447.72,449.62 445.77,451.60 446.39,454.60 444.25,452.95 442.11,454.60 442.73,451.60 440.78,449.62 443.31,449.42"/>
<polygon points="454.75,442.80 455.69,445.67 458.22,445.87 456.27,447.85 456.89,450.85 454.75,449.20 452.61,450.85 453.23,447.85 451.28,445.87 453.81,445.67"/>
<polygon points="465.00,446.05 465.94,448.92 468.47,449.12 466.52,451.10 467.14,454.10 465.00,452.45 462.86,454.10 463.48,451.10 461.53,449.12 464.06,448.92"/>
<polygon points="475.50,441.80 476.44,444.67 478.97,444.87 477.02,446.85 477.64,449.85 475.50,448.20 473.36,449.85 473.98,446.85 472.03,444.87 474.56,444.67"/>
<polygon points="486.00,440.75 486.94,443.62 489.47,443.82 487.52,445.80 488.14,448.80 486.00,447.15 483.86,448.80 484.48,445.80 482.53,443.82 485.06,443.62"/>
<polygon points="496.50,440.30 497.44,443.17 499.97,443.37 498.02,445.35 498.64,448.35 496.50,446.70 494.36,448.35 494.98,445.35 493.03,443.37 495.56,443.17"/>
<polygon points="507.00,439.05 507.94,441.92 510.47,442.12 508.52,444.10 509.14,447.10 507.00,445.45 504.86,447.10 505.48,444.10 503.53,442.12 506.06,441.92"/>
<polygon points="517.50,441.05 518.44,443.92 520.97,444.12 519.02,446.10 519.64,449.10 517.50,447.45 515.36,449.10 515.98,446.10 514.03,444.12 516.56,443.92"/>
<polygon points="528.00,445.55 528.94,448.42 531.47,448.62 529.52,450.60 530.14,453.60 528.00,451.95 525.86,453.60 526.48,450.60 524.53,448.62 527.06,448.42"/>
<polygon points="538.50,436.05 539.44,438.92 541.97,439.12 540.02,441.10 540.64,444.10 538.50,442.45 536.36,444.10 536.98,441.10 535.03,439.12 537.56,438.92"/>
<polygon points="549.25,435.55 550.19,438.42 552.72,438.62 550.77,440.60 551.39,443.60 549.25,441.95 547.11,443.60 547.73,440.60 545.78,438.62 548.31,438.42"/>
<polygon points="565.00,445.55 565.94,448.42 568.47,448.62 566.52,450.60 567.14,453.60 565.00,451.95 562.86,453.60 563.48,450.60 561.53,448.62 564.06,448.42"/>
<polygon points="586.00,437.80 586.94,440.67 589.47,440.87 587.52,442.85 588.14,445.85 586.00,444.20 583.86,445.85 584.48,442.85 582.53,440.87 585.06,440.67"/>
</g>
<g font-family="Liberation Sans, sans-serif" fill="#000" stroke="#000" stroke-width="0.18">
<g transform="translate(47.89,17.30) scale(0.8700,1)"><text x="0.00 10.18" y="0 0" font-size="18.30">30</text></g>
<g transform="translate(47.89,50.40) scale(0.8700,1)"><text x="0.00 10.18" y="0 0" font-size="18.30">20</text></g>
<g transform="translate(47.89,83.50) scale(0.8700,1)"><text x="0.00 10.18" y="0 0" font-size="18.30"> 0</text><path d="M580 0H760V1409H625C600 1300 500 1225 220 1195V1065H580Z" transform="translate(0.00,0) scale(0.00894,-0.00894)"/></g>
<g transform="translate(56.75,116.60) scale(0.8700,1)"><text x="0.00" y="0" font-size="18.30">0</text></g>
<g transform="translate(38.59,149.70) scale(0.8700,1)"><text x="0.00 10.69 20.86" y="1.35 0 0" font-size="18.30">− 0</text><path d="M580 0H760V1409H625C600 1300 500 1225 220 1195V1065H580Z" transform="translate(10.69,0) scale(0.00894,-0.00894)"/></g>
<g transform="translate(47.89,171.77) scale(0.8700,1)"><text x="0.00 10.18" y="0 0" font-size="18.30">30</text></g>
<g transform="translate(47.89,199.35) scale(0.8700,1)"><text x="0.00 10.18" y="0 0" font-size="18.30">20</text></g>
<g transform="translate(47.89,226.93) scale(0.8700,1)"><text x="0.00 10.18" y="0 0" font-size="18.30"> 0</text><path d="M580 0H760V1409H625C600 1300 500 1225 220 1195V1065H580Z" transform="translate(0.00,0) scale(0.00894,-0.00894)"/></g>
<g transform="translate(56.75,254.52) scale(0.8700,1)"><text x="0.00" y="0" font-size="18.30">0</text></g>
<g transform="translate(38.59,282.10) scale(0.8700,1)"><text x="0.00 10.69 20.86" y="1.35 0 0" font-size="18.30">− 0</text><path d="M580 0H760V1409H625C600 1300 500 1225 220 1195V1065H580Z" transform="translate(10.69,0) scale(0.00894,-0.00894)"/></g>
<g transform="translate(56.75,313.62) scale(0.8700,1)"><text x="0.00" y="0" font-size="18.30">5</text></g>
<g transform="translate(56.75,345.15) scale(0.8700,1)"><text x="0.00" y="0" font-size="18.30">0</text></g>
<g transform="translate(47.45,376.67) scale(0.8700,1)"><text x="0.00 10.69" y="1.35 0" font-size="18.30">−5</text></g>
<g transform="translate(38.59,408.20) scale(0.8700,1)"><text x="0.00 10.69 20.86" y="1.35 0 0" font-size="18.30">− 0</text><path d="M580 0H760V1409H625C600 1300 500 1225 220 1195V1065H580Z" transform="translate(10.69,0) scale(0.00894,-0.00894)"/></g>
<g transform="translate(56.75,438.59) scale(0.8700,1)"><text x="0.00" y="0" font-size="18.30">0</text></g>
<g transform="translate(38.59,486.77) scale(0.8700,1)"><text x="0.00 10.69 20.86" y="1.35 0 0" font-size="18.30">−20</text></g>
<g transform="translate(38.59,534.95) scale(0.8700,1)"><text x="0.00 10.69 20.86" y="1.35 0 0" font-size="18.30">−40</text></g>
<g transform="translate(118.47,562.10) scale(0.8700,1)"><text x="0.00" y="0" font-size="18.30">5</text></g>
<g transform="translate(235.85,562.10) scale(0.8700,1)"><text x="0.00 10.18" y="0 0" font-size="18.30"> 0</text><path d="M580 0H760V1409H625C600 1300 500 1225 220 1195V1065H580Z" transform="translate(0.00,0) scale(0.00894,-0.00894)"/></g>
<g transform="translate(357.65,562.10) scale(0.8700,1)"><text x="0.00 10.18" y="0 0" font-size="18.30"> 5</text><path d="M580 0H760V1409H625C600 1300 500 1225 220 1195V1065H580Z" transform="translate(0.00,0) scale(0.00894,-0.00894)"/></g>
<g transform="translate(479.45,562.10) scale(0.8700,1)"><text x="0.00 10.18" y="0 0" font-size="18.30">20</text></g>
<g transform="translate(429.26,49.60) scale(0.8553,1)"><text x="0.00 9.79 19.58 29.36 39.15 48.94 59.22 69.01 78.80 89.07 98.86 108.65 118.93 128.72" y="0 0 0 0 0 1.60 0 0 1.60 0 0 1.60 0 0" font-size="17.60">40 24−0 − 3−00</text><path d="M580 0H760V1409H625C600 1300 500 1225 220 1195V1065H580Z" transform="translate(19.58,0) scale(0.00859,-0.00859)"/><path d="M580 0H760V1409H625C600 1300 500 1225 220 1195V1065H580Z" transform="translate(69.01,0) scale(0.00859,-0.00859)"/><path d="M580 0H760V1409H625C600 1300 500 1225 220 1195V1065H580Z" transform="translate(89.07,0) scale(0.00859,-0.00859)"/></g>
<g transform="translate(429.26,199.10) scale(0.8553,1)"><text x="0.00 9.79 19.58 29.36 39.15 48.94 59.22 69.01 78.80 89.07 98.86 108.65 118.93 128.72" y="0 0 0 0 0 1.60 0 0 1.60 0 0 1.60 0 0" font-size="17.60">40 24−0 − 4−00</text><path d="M580 0H760V1409H625C600 1300 500 1225 220 1195V1065H580Z" transform="translate(19.58,0) scale(0.00859,-0.00859)"/><path d="M580 0H760V1409H625C600 1300 500 1225 220 1195V1065H580Z" transform="translate(69.01,0) scale(0.00859,-0.00859)"/><path d="M580 0H760V1409H625C600 1300 500 1225 220 1195V1065H580Z" transform="translate(89.07,0) scale(0.00859,-0.00859)"/></g>
<g transform="translate(429.26,376.60) scale(0.8553,1)"><text x="0.00 9.79 19.58 29.36 39.15 48.94 59.22 69.01 78.80 89.07 98.86 108.65 118.93 128.72" y="0 0 0 0 0 1.60 0 0 1.60 0 0 1.60 0 0" font-size="17.60">40 22−0 −0 −00</text><path d="M580 0H760V1409H625C600 1300 500 1225 220 1195V1065H580Z" transform="translate(19.58,0) scale(0.00859,-0.00859)"/><path d="M580 0H760V1409H625C600 1300 500 1225 220 1195V1065H580Z" transform="translate(69.01,0) scale(0.00859,-0.00859)"/><path d="M580 0H760V1409H625C600 1300 500 1225 220 1195V1065H580Z" transform="translate(98.86,0) scale(0.00859,-0.00859)"/></g>
<g transform="translate(429.26,510.60) scale(0.8553,1)"><text x="0.00 9.79 19.58 29.36 39.15 48.94 59.22 69.01 78.80 89.07 98.86 108.65 118.93 128.72" y="0 0 0 0 0 1.60 0 0 1.60 0 0 1.60 0 0" font-size="17.60">40 24−0 −38−0 </text><path d="M580 0H760V1409H625C600 1300 500 1225 220 1195V1065H580Z" transform="translate(19.58,0) scale(0.00859,-0.00859)"/><path d="M580 0H760V1409H625C600 1300 500 1225 220 1195V1065H580Z" transform="translate(69.01,0) scale(0.00859,-0.00859)"/><path d="M580 0H760V1409H625C600 1300 500 1225 220 1195V1065H580Z" transform="translate(128.72,0) scale(0.00859,-0.00859)"/></g>
</g>
<text transform="translate(288.88,584.9) scale(0.8194,1)" font-family="Liberation Sans, sans-serif" font-size="22.60" stroke="#000" stroke-width="0.22">Energy (keV)</text>
<path fill-rule="evenodd" fill="#000" d="M0.1,255 L5.3,239.6 L6.3,239.6 L10.9,255 Z M1.7,253.5 L5.6,242.4 L8.7,253.5 Z"/>
<path d="M15.1,246.3 C15.2,244.7 16.5,243.8 17.6,244.7 C18.8,245.9 19.3,249 19.8,252 C20.3,255.5 21,258.5 22.2,258.9 C23.1,259.1 23.8,257.9 24.2,256.5" fill="none" stroke="#000" stroke-width="1.15"/>
<polygon points="22.9,244.2 24.1,244.0 16.7,259.7 14.8,259.7" fill="#000"/>
</svg></body></html>
